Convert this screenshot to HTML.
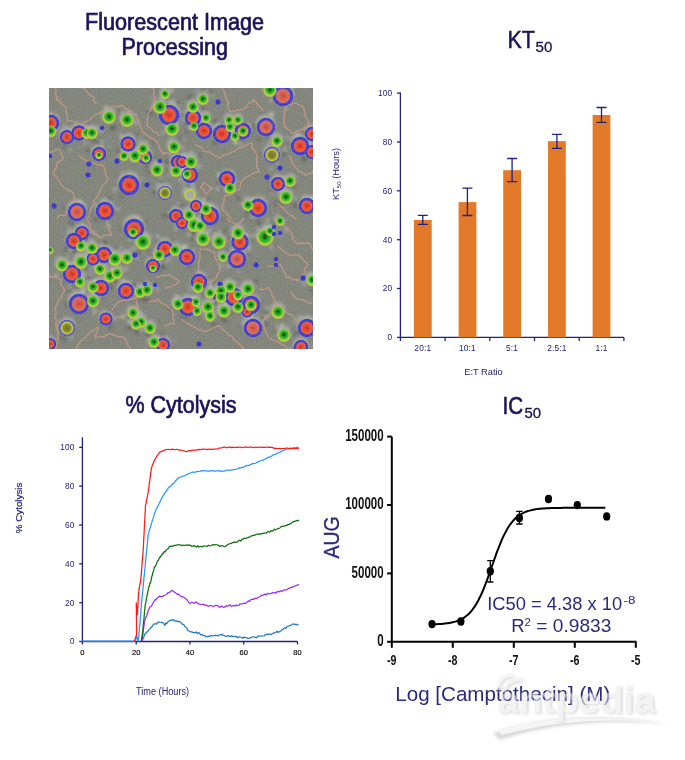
<!DOCTYPE html>
<html><head><meta charset="utf-8"><style>
html,body{margin:0;padding:0;background:#fff;}
svg{display:block;will-change:transform;font-family:"Liberation Sans",sans-serif;}
</style></head><body>
<svg width="685" height="760" viewBox="0 0 685 760">
<defs><clipPath id="mc"><rect x="49" y="88" width="264" height="261"/></clipPath>
<filter id="bl" x="-5%" y="-5%" width="110%" height="110%"><feGaussianBlur stdDeviation="0.65"/></filter>
<filter id="bl2" x="-5%" y="-5%" width="110%" height="110%"><feGaussianBlur stdDeviation="1.4"/></filter>
<filter id="nz" x="0" y="0" width="100%" height="100%"><feTurbulence type="fractalNoise" baseFrequency="0.8" numOctaves="2" seed="3"/><feColorMatrix type="matrix" values="0 0 0 0 0.5  0 0 0 0 0.5  0 0 0 0 0.5  1.2 1.2 1.2 0 -1.6"/></filter>
</defs>
<g clip-path="url(#mc)">
<defs><pattern id="dots" x="49" y="88" width="4.4" height="4.4" patternUnits="userSpaceOnUse"><circle cx="1" cy="1" r="0.7" fill="#b8b870"/><circle cx="3.2" cy="3.2" r="0.7" fill="#b8b870"/></pattern></defs>
<rect x="49" y="88" width="264" height="261" fill="#7d8179"/>
<rect x="49" y="88" width="264" height="261" fill="url(#dots)" opacity="0.22"/>
<g filter="url(#bl2)">
<circle cx="50.7" cy="120.0" r="8.62" fill="#d4d6d0" opacity="0.45"/>
<circle cx="40.1" cy="126.4" r="2.5" fill="#3c403c" opacity="0.4"/>
<circle cx="40.1" cy="125.4" r="2.0" fill="#3c403c" opacity="0.4"/>
<circle cx="55.5" cy="133.3" r="2.1" fill="#3c403c" opacity="0.4"/>
<circle cx="53.5" cy="114.0" r="1.6" fill="#3c403c" opacity="0.4"/>
<circle cx="62.3" cy="130.3" r="2.0" fill="#d8dcd4" opacity="0.4"/>
<circle cx="64.8" cy="126.7" r="2.4" fill="#d8dcd4" opacity="0.4"/>
<circle cx="50.7" cy="128.9" r="6.500000000000001" fill="#d4d6d0" opacity="0.45"/>
<circle cx="45.6" cy="123.1" r="1.4" fill="#3c403c" opacity="0.4"/>
<circle cx="60.1" cy="131.9" r="1.3" fill="#3c403c" opacity="0.4"/>
<circle cx="53.9" cy="138.3" r="1.2" fill="#3c403c" opacity="0.4"/>
<circle cx="42.4" cy="133.0" r="2.4" fill="#3c403c" opacity="0.4"/>
<circle cx="40.6" cy="129.8" r="1.8" fill="#d8dcd4" opacity="0.4"/>
<circle cx="46.0" cy="122.8" r="1.5" fill="#d8dcd4" opacity="0.4"/>
<circle cx="66.7" cy="134.5" r="7.5600000000000005" fill="#d4d6d0" opacity="0.45"/>
<circle cx="79.3" cy="136.8" r="2.4" fill="#3c403c" opacity="0.4"/>
<circle cx="64.5" cy="128.1" r="1.5" fill="#3c403c" opacity="0.4"/>
<circle cx="65.0" cy="144.9" r="2.3" fill="#3c403c" opacity="0.4"/>
<circle cx="57.6" cy="143.8" r="1.7" fill="#3c403c" opacity="0.4"/>
<circle cx="79.2" cy="133.7" r="1.2" fill="#d8dcd4" opacity="0.4"/>
<circle cx="70.2" cy="149.5" r="1.8" fill="#d8dcd4" opacity="0.4"/>
<circle cx="78.7" cy="130.2" r="8.09" fill="#d4d6d0" opacity="0.45"/>
<circle cx="89.1" cy="131.7" r="1.3" fill="#3c403c" opacity="0.4"/>
<circle cx="70.8" cy="124.4" r="1.6" fill="#3c403c" opacity="0.4"/>
<circle cx="87.4" cy="138.1" r="2.5" fill="#3c403c" opacity="0.4"/>
<circle cx="79.4" cy="124.1" r="1.5" fill="#3c403c" opacity="0.4"/>
<circle cx="86.4" cy="138.4" r="2.2" fill="#d8dcd4" opacity="0.4"/>
<circle cx="84.1" cy="143.5" r="1.7" fill="#d8dcd4" opacity="0.4"/>
<circle cx="86.7" cy="130.9" r="6.500000000000001" fill="#d4d6d0" opacity="0.45"/>
<circle cx="90.7" cy="142.4" r="1.4" fill="#3c403c" opacity="0.4"/>
<circle cx="82.5" cy="127.3" r="1.8" fill="#3c403c" opacity="0.4"/>
<circle cx="88.9" cy="140.8" r="2.6" fill="#3c403c" opacity="0.4"/>
<circle cx="89.7" cy="125.3" r="2.4" fill="#3c403c" opacity="0.4"/>
<circle cx="89.3" cy="142.0" r="2.2" fill="#d8dcd4" opacity="0.4"/>
<circle cx="82.1" cy="126.9" r="2.4" fill="#d8dcd4" opacity="0.4"/>
<circle cx="91.7" cy="130.9" r="6.500000000000001" fill="#d4d6d0" opacity="0.45"/>
<circle cx="93.8" cy="140.7" r="2.3" fill="#3c403c" opacity="0.4"/>
<circle cx="88.1" cy="140.2" r="1.3" fill="#3c403c" opacity="0.4"/>
<circle cx="100.0" cy="138.1" r="1.5" fill="#3c403c" opacity="0.4"/>
<circle cx="85.2" cy="128.0" r="1.8" fill="#3c403c" opacity="0.4"/>
<circle cx="101.4" cy="130.5" r="1.9" fill="#d8dcd4" opacity="0.4"/>
<circle cx="97.5" cy="126.9" r="1.4" fill="#d8dcd4" opacity="0.4"/>
<circle cx="108.7" cy="114.5" r="7.5600000000000005" fill="#d4d6d0" opacity="0.45"/>
<circle cx="118.7" cy="110.7" r="1.5" fill="#3c403c" opacity="0.4"/>
<circle cx="113.1" cy="127.4" r="2.5" fill="#3c403c" opacity="0.4"/>
<circle cx="113.0" cy="128.5" r="2.4" fill="#3c403c" opacity="0.4"/>
<circle cx="101.2" cy="111.1" r="1.3" fill="#3c403c" opacity="0.4"/>
<circle cx="121.8" cy="120.2" r="1.5" fill="#d8dcd4" opacity="0.4"/>
<circle cx="106.3" cy="107.8" r="2.2" fill="#d8dcd4" opacity="0.4"/>
<circle cx="126.7" cy="117.5" r="7.5600000000000005" fill="#d4d6d0" opacity="0.45"/>
<circle cx="119.4" cy="114.8" r="1.4" fill="#3c403c" opacity="0.4"/>
<circle cx="125.5" cy="112.0" r="1.5" fill="#3c403c" opacity="0.4"/>
<circle cx="116.1" cy="115.8" r="2.1" fill="#3c403c" opacity="0.4"/>
<circle cx="124.7" cy="131.8" r="1.5" fill="#3c403c" opacity="0.4"/>
<circle cx="136.7" cy="121.0" r="1.7" fill="#d8dcd4" opacity="0.4"/>
<circle cx="135.6" cy="123.4" r="1.6" fill="#d8dcd4" opacity="0.4"/>
<circle cx="127.7" cy="141.2" r="8.09" fill="#d4d6d0" opacity="0.45"/>
<circle cx="119.9" cy="140.1" r="1.7" fill="#3c403c" opacity="0.4"/>
<circle cx="137.9" cy="135.9" r="2.1" fill="#3c403c" opacity="0.4"/>
<circle cx="124.0" cy="133.7" r="1.4" fill="#3c403c" opacity="0.4"/>
<circle cx="136.3" cy="145.9" r="2.5" fill="#3c403c" opacity="0.4"/>
<circle cx="123.8" cy="131.0" r="1.2" fill="#d8dcd4" opacity="0.4"/>
<circle cx="120.6" cy="135.5" r="2.1" fill="#d8dcd4" opacity="0.4"/>
<circle cx="98.7" cy="151.5" r="7.5600000000000005" fill="#d4d6d0" opacity="0.45"/>
<circle cx="93.8" cy="165.2" r="1.3" fill="#3c403c" opacity="0.4"/>
<circle cx="88.3" cy="150.8" r="2.5" fill="#3c403c" opacity="0.4"/>
<circle cx="98.1" cy="143.0" r="2.3" fill="#3c403c" opacity="0.4"/>
<circle cx="107.1" cy="149.2" r="2.2" fill="#3c403c" opacity="0.4"/>
<circle cx="109.3" cy="146.6" r="1.7" fill="#d8dcd4" opacity="0.4"/>
<circle cx="102.2" cy="141.7" r="1.9" fill="#d8dcd4" opacity="0.4"/>
<circle cx="123.7" cy="154.3" r="5.44" fill="#d4d6d0" opacity="0.45"/>
<circle cx="118.7" cy="150.7" r="2.0" fill="#3c403c" opacity="0.4"/>
<circle cx="119.3" cy="152.2" r="2.1" fill="#3c403c" opacity="0.4"/>
<circle cx="133.7" cy="155.6" r="2.2" fill="#3c403c" opacity="0.4"/>
<circle cx="117.1" cy="161.8" r="2.0" fill="#3c403c" opacity="0.4"/>
<circle cx="114.3" cy="159.8" r="1.3" fill="#d8dcd4" opacity="0.4"/>
<circle cx="124.0" cy="149.6" r="1.9" fill="#d8dcd4" opacity="0.4"/>
<circle cx="134.7" cy="153.7" r="7.03" fill="#d4d6d0" opacity="0.45"/>
<circle cx="126.7" cy="157.0" r="2.2" fill="#3c403c" opacity="0.4"/>
<circle cx="124.9" cy="156.2" r="2.5" fill="#3c403c" opacity="0.4"/>
<circle cx="134.7" cy="163.4" r="1.6" fill="#3c403c" opacity="0.4"/>
<circle cx="131.4" cy="148.6" r="1.4" fill="#3c403c" opacity="0.4"/>
<circle cx="144.2" cy="149.8" r="1.7" fill="#d8dcd4" opacity="0.4"/>
<circle cx="142.3" cy="150.0" r="2.0" fill="#d8dcd4" opacity="0.4"/>
<circle cx="142.7" cy="146.9" r="6.500000000000001" fill="#d4d6d0" opacity="0.45"/>
<circle cx="145.8" cy="157.3" r="2.3" fill="#3c403c" opacity="0.4"/>
<circle cx="152.2" cy="143.4" r="1.7" fill="#3c403c" opacity="0.4"/>
<circle cx="135.9" cy="144.9" r="1.4" fill="#3c403c" opacity="0.4"/>
<circle cx="132.4" cy="149.3" r="2.4" fill="#3c403c" opacity="0.4"/>
<circle cx="140.1" cy="137.3" r="1.5" fill="#d8dcd4" opacity="0.4"/>
<circle cx="147.7" cy="157.3" r="1.5" fill="#d8dcd4" opacity="0.4"/>
<circle cx="144.7" cy="154.5" r="7.5600000000000005" fill="#d4d6d0" opacity="0.45"/>
<circle cx="147.2" cy="166.5" r="2.1" fill="#3c403c" opacity="0.4"/>
<circle cx="135.7" cy="157.4" r="2.4" fill="#3c403c" opacity="0.4"/>
<circle cx="154.8" cy="155.9" r="1.3" fill="#3c403c" opacity="0.4"/>
<circle cx="156.6" cy="159.3" r="1.3" fill="#3c403c" opacity="0.4"/>
<circle cx="142.1" cy="146.2" r="1.6" fill="#d8dcd4" opacity="0.4"/>
<circle cx="147.2" cy="148.8" r="1.4" fill="#d8dcd4" opacity="0.4"/>
<circle cx="156.7" cy="167.7" r="7.03" fill="#d4d6d0" opacity="0.45"/>
<circle cx="149.9" cy="172.1" r="2.4" fill="#3c403c" opacity="0.4"/>
<circle cx="157.6" cy="177.9" r="1.3" fill="#3c403c" opacity="0.4"/>
<circle cx="150.6" cy="163.2" r="2.1" fill="#3c403c" opacity="0.4"/>
<circle cx="150.8" cy="160.9" r="2.5" fill="#3c403c" opacity="0.4"/>
<circle cx="153.5" cy="161.9" r="1.8" fill="#d8dcd4" opacity="0.4"/>
<circle cx="160.4" cy="177.1" r="1.8" fill="#d8dcd4" opacity="0.4"/>
<circle cx="128.7" cy="181.2" r="10.74" fill="#d4d6d0" opacity="0.45"/>
<circle cx="126.3" cy="173.5" r="1.6" fill="#3c403c" opacity="0.4"/>
<circle cx="121.0" cy="196.7" r="1.9" fill="#3c403c" opacity="0.4"/>
<circle cx="118.1" cy="175.5" r="1.8" fill="#3c403c" opacity="0.4"/>
<circle cx="132.9" cy="170.4" r="1.3" fill="#3c403c" opacity="0.4"/>
<circle cx="142.8" cy="178.7" r="1.4" fill="#d8dcd4" opacity="0.4"/>
<circle cx="115.0" cy="189.2" r="2.3" fill="#d8dcd4" opacity="0.4"/>
<circle cx="104.7" cy="207.6" r="9.68" fill="#d4d6d0" opacity="0.45"/>
<circle cx="96.0" cy="219.8" r="2.4" fill="#3c403c" opacity="0.4"/>
<circle cx="109.1" cy="197.4" r="1.8" fill="#3c403c" opacity="0.4"/>
<circle cx="98.6" cy="202.1" r="2.2" fill="#3c403c" opacity="0.4"/>
<circle cx="110.3" cy="199.3" r="2.2" fill="#3c403c" opacity="0.4"/>
<circle cx="108.4" cy="225.6" r="2.4" fill="#d8dcd4" opacity="0.4"/>
<circle cx="118.0" cy="209.1" r="2.1" fill="#d8dcd4" opacity="0.4"/>
<circle cx="76.7" cy="208.6" r="9.68" fill="#d4d6d0" opacity="0.45"/>
<circle cx="71.0" cy="224.7" r="2.4" fill="#3c403c" opacity="0.4"/>
<circle cx="71.0" cy="220.4" r="1.8" fill="#3c403c" opacity="0.4"/>
<circle cx="64.2" cy="207.8" r="1.9" fill="#3c403c" opacity="0.4"/>
<circle cx="90.4" cy="214.4" r="1.3" fill="#3c403c" opacity="0.4"/>
<circle cx="80.5" cy="201.2" r="1.6" fill="#d8dcd4" opacity="0.4"/>
<circle cx="79.6" cy="201.1" r="1.4" fill="#d8dcd4" opacity="0.4"/>
<circle cx="164.7" cy="190.5" r="7.5600000000000005" fill="#d4d6d0" opacity="0.45"/>
<circle cx="153.9" cy="191.9" r="2.4" fill="#3c403c" opacity="0.4"/>
<circle cx="160.5" cy="181.8" r="1.9" fill="#3c403c" opacity="0.4"/>
<circle cx="172.8" cy="190.4" r="1.5" fill="#3c403c" opacity="0.4"/>
<circle cx="156.0" cy="191.5" r="2.2" fill="#3c403c" opacity="0.4"/>
<circle cx="157.9" cy="184.6" r="2.2" fill="#d8dcd4" opacity="0.4"/>
<circle cx="155.8" cy="189.4" r="1.7" fill="#d8dcd4" opacity="0.4"/>
<circle cx="168.7" cy="111.2" r="10.74" fill="#d4d6d0" opacity="0.45"/>
<circle cx="177.5" cy="102.5" r="1.5" fill="#3c403c" opacity="0.4"/>
<circle cx="178.1" cy="102.6" r="1.9" fill="#3c403c" opacity="0.4"/>
<circle cx="158.3" cy="109.7" r="2.0" fill="#3c403c" opacity="0.4"/>
<circle cx="155.2" cy="114.7" r="1.2" fill="#3c403c" opacity="0.4"/>
<circle cx="182.9" cy="112.3" r="1.7" fill="#d8dcd4" opacity="0.4"/>
<circle cx="173.5" cy="101.4" r="1.8" fill="#d8dcd4" opacity="0.4"/>
<circle cx="159.7" cy="104.5" r="7.5600000000000005" fill="#d4d6d0" opacity="0.45"/>
<circle cx="157.0" cy="99.4" r="2.0" fill="#3c403c" opacity="0.4"/>
<circle cx="149.6" cy="113.3" r="2.5" fill="#3c403c" opacity="0.4"/>
<circle cx="158.8" cy="116.9" r="1.4" fill="#3c403c" opacity="0.4"/>
<circle cx="149.5" cy="111.7" r="2.5" fill="#3c403c" opacity="0.4"/>
<circle cx="150.2" cy="108.5" r="1.4" fill="#d8dcd4" opacity="0.4"/>
<circle cx="150.4" cy="98.3" r="1.4" fill="#d8dcd4" opacity="0.4"/>
<circle cx="171.7" cy="126.5" r="7.5600000000000005" fill="#d4d6d0" opacity="0.45"/>
<circle cx="173.4" cy="121.2" r="1.5" fill="#3c403c" opacity="0.4"/>
<circle cx="173.6" cy="139.8" r="1.7" fill="#3c403c" opacity="0.4"/>
<circle cx="165.5" cy="137.4" r="1.3" fill="#3c403c" opacity="0.4"/>
<circle cx="171.0" cy="120.7" r="1.9" fill="#3c403c" opacity="0.4"/>
<circle cx="172.0" cy="138.3" r="1.8" fill="#d8dcd4" opacity="0.4"/>
<circle cx="162.6" cy="133.0" r="1.7" fill="#d8dcd4" opacity="0.4"/>
<circle cx="164.7" cy="92.3" r="5.44" fill="#d4d6d0" opacity="0.45"/>
<circle cx="158.6" cy="92.8" r="1.5" fill="#3c403c" opacity="0.4"/>
<circle cx="159.1" cy="87.7" r="1.9" fill="#3c403c" opacity="0.4"/>
<circle cx="170.0" cy="87.2" r="2.4" fill="#3c403c" opacity="0.4"/>
<circle cx="166.0" cy="103.0" r="2.3" fill="#3c403c" opacity="0.4"/>
<circle cx="171.4" cy="89.5" r="1.6" fill="#d8dcd4" opacity="0.4"/>
<circle cx="171.5" cy="90.6" r="2.4" fill="#d8dcd4" opacity="0.4"/>
<circle cx="173.7" cy="144.7" r="7.03" fill="#d4d6d0" opacity="0.45"/>
<circle cx="180.0" cy="141.8" r="1.5" fill="#3c403c" opacity="0.4"/>
<circle cx="172.7" cy="138.6" r="1.3" fill="#3c403c" opacity="0.4"/>
<circle cx="178.5" cy="139.0" r="2.3" fill="#3c403c" opacity="0.4"/>
<circle cx="180.4" cy="153.5" r="2.2" fill="#3c403c" opacity="0.4"/>
<circle cx="182.8" cy="148.0" r="2.0" fill="#d8dcd4" opacity="0.4"/>
<circle cx="184.7" cy="140.3" r="1.3" fill="#d8dcd4" opacity="0.4"/>
<circle cx="177.7" cy="159.5" r="7.5600000000000005" fill="#d4d6d0" opacity="0.45"/>
<circle cx="166.7" cy="161.6" r="1.9" fill="#3c403c" opacity="0.4"/>
<circle cx="174.6" cy="154.0" r="1.3" fill="#3c403c" opacity="0.4"/>
<circle cx="184.3" cy="167.0" r="2.0" fill="#3c403c" opacity="0.4"/>
<circle cx="167.6" cy="161.0" r="1.4" fill="#3c403c" opacity="0.4"/>
<circle cx="181.8" cy="170.6" r="2.2" fill="#d8dcd4" opacity="0.4"/>
<circle cx="191.0" cy="161.2" r="1.3" fill="#d8dcd4" opacity="0.4"/>
<circle cx="175.7" cy="168.9" r="6.500000000000001" fill="#d4d6d0" opacity="0.45"/>
<circle cx="186.3" cy="175.2" r="1.8" fill="#3c403c" opacity="0.4"/>
<circle cx="176.7" cy="162.8" r="1.9" fill="#3c403c" opacity="0.4"/>
<circle cx="167.3" cy="170.2" r="2.0" fill="#3c403c" opacity="0.4"/>
<circle cx="185.9" cy="171.8" r="2.4" fill="#3c403c" opacity="0.4"/>
<circle cx="180.0" cy="179.7" r="2.1" fill="#d8dcd4" opacity="0.4"/>
<circle cx="169.2" cy="175.6" r="1.4" fill="#d8dcd4" opacity="0.4"/>
<circle cx="175.7" cy="213.5" r="7.5600000000000005" fill="#d4d6d0" opacity="0.45"/>
<circle cx="168.1" cy="215.4" r="2.5" fill="#3c403c" opacity="0.4"/>
<circle cx="179.5" cy="205.5" r="2.4" fill="#3c403c" opacity="0.4"/>
<circle cx="169.3" cy="209.0" r="2.0" fill="#3c403c" opacity="0.4"/>
<circle cx="163.7" cy="215.7" r="2.3" fill="#3c403c" opacity="0.4"/>
<circle cx="175.3" cy="228.9" r="2.1" fill="#d8dcd4" opacity="0.4"/>
<circle cx="178.1" cy="203.8" r="1.7" fill="#d8dcd4" opacity="0.4"/>
<circle cx="202.7" cy="96.9" r="6.500000000000001" fill="#d4d6d0" opacity="0.45"/>
<circle cx="211.5" cy="92.5" r="2.2" fill="#3c403c" opacity="0.4"/>
<circle cx="204.1" cy="88.8" r="1.8" fill="#3c403c" opacity="0.4"/>
<circle cx="201.8" cy="92.0" r="1.7" fill="#3c403c" opacity="0.4"/>
<circle cx="196.3" cy="100.3" r="1.7" fill="#3c403c" opacity="0.4"/>
<circle cx="196.3" cy="91.0" r="1.5" fill="#d8dcd4" opacity="0.4"/>
<circle cx="213.0" cy="95.3" r="1.6" fill="#d8dcd4" opacity="0.4"/>
<circle cx="192.7" cy="104.9" r="6.500000000000001" fill="#d4d6d0" opacity="0.45"/>
<circle cx="188.0" cy="99.1" r="1.9" fill="#3c403c" opacity="0.4"/>
<circle cx="184.3" cy="114.2" r="2.1" fill="#3c403c" opacity="0.4"/>
<circle cx="189.9" cy="97.3" r="2.6" fill="#3c403c" opacity="0.4"/>
<circle cx="202.5" cy="108.4" r="2.2" fill="#3c403c" opacity="0.4"/>
<circle cx="192.6" cy="116.3" r="1.3" fill="#d8dcd4" opacity="0.4"/>
<circle cx="196.1" cy="115.6" r="1.3" fill="#d8dcd4" opacity="0.4"/>
<circle cx="192.7" cy="115.0" r="8.62" fill="#d4d6d0" opacity="0.45"/>
<circle cx="192.9" cy="131.0" r="2.0" fill="#3c403c" opacity="0.4"/>
<circle cx="179.7" cy="117.4" r="2.0" fill="#3c403c" opacity="0.4"/>
<circle cx="204.8" cy="117.6" r="2.3" fill="#3c403c" opacity="0.4"/>
<circle cx="203.3" cy="123.3" r="2.3" fill="#3c403c" opacity="0.4"/>
<circle cx="206.5" cy="121.9" r="1.4" fill="#d8dcd4" opacity="0.4"/>
<circle cx="182.9" cy="119.8" r="1.8" fill="#d8dcd4" opacity="0.4"/>
<circle cx="193.7" cy="124.3" r="5.44" fill="#d4d6d0" opacity="0.45"/>
<circle cx="189.4" cy="122.1" r="2.5" fill="#3c403c" opacity="0.4"/>
<circle cx="186.9" cy="129.9" r="2.0" fill="#3c403c" opacity="0.4"/>
<circle cx="189.3" cy="131.3" r="2.1" fill="#3c403c" opacity="0.4"/>
<circle cx="187.5" cy="123.4" r="2.2" fill="#3c403c" opacity="0.4"/>
<circle cx="192.2" cy="132.0" r="1.5" fill="#d8dcd4" opacity="0.4"/>
<circle cx="200.8" cy="127.9" r="2.1" fill="#d8dcd4" opacity="0.4"/>
<circle cx="205.7" cy="116.3" r="5.44" fill="#d4d6d0" opacity="0.45"/>
<circle cx="198.5" cy="124.2" r="2.2" fill="#3c403c" opacity="0.4"/>
<circle cx="215.7" cy="121.2" r="2.5" fill="#3c403c" opacity="0.4"/>
<circle cx="214.8" cy="122.4" r="1.8" fill="#3c403c" opacity="0.4"/>
<circle cx="196.0" cy="119.4" r="1.5" fill="#3c403c" opacity="0.4"/>
<circle cx="195.2" cy="116.4" r="2.1" fill="#d8dcd4" opacity="0.4"/>
<circle cx="195.1" cy="120.2" r="2.2" fill="#d8dcd4" opacity="0.4"/>
<circle cx="203.7" cy="128.0" r="8.62" fill="#d4d6d0" opacity="0.45"/>
<circle cx="196.5" cy="125.3" r="2.1" fill="#3c403c" opacity="0.4"/>
<circle cx="194.5" cy="133.7" r="1.3" fill="#3c403c" opacity="0.4"/>
<circle cx="194.7" cy="129.4" r="1.8" fill="#3c403c" opacity="0.4"/>
<circle cx="198.6" cy="121.5" r="1.6" fill="#3c403c" opacity="0.4"/>
<circle cx="194.0" cy="125.3" r="2.1" fill="#d8dcd4" opacity="0.4"/>
<circle cx="189.9" cy="128.3" r="2.3" fill="#d8dcd4" opacity="0.4"/>
<circle cx="221.7" cy="130.6" r="9.68" fill="#d4d6d0" opacity="0.45"/>
<circle cx="220.9" cy="123.0" r="1.4" fill="#3c403c" opacity="0.4"/>
<circle cx="232.5" cy="125.5" r="2.1" fill="#3c403c" opacity="0.4"/>
<circle cx="214.9" cy="142.7" r="2.2" fill="#3c403c" opacity="0.4"/>
<circle cx="210.4" cy="129.0" r="2.1" fill="#3c403c" opacity="0.4"/>
<circle cx="222.2" cy="122.6" r="1.5" fill="#d8dcd4" opacity="0.4"/>
<circle cx="236.9" cy="132.0" r="2.3" fill="#d8dcd4" opacity="0.4"/>
<circle cx="242.7" cy="128.0" r="8.62" fill="#d4d6d0" opacity="0.45"/>
<circle cx="251.9" cy="133.3" r="1.6" fill="#3c403c" opacity="0.4"/>
<circle cx="232.6" cy="136.3" r="1.3" fill="#3c403c" opacity="0.4"/>
<circle cx="234.1" cy="128.6" r="1.3" fill="#3c403c" opacity="0.4"/>
<circle cx="237.9" cy="120.8" r="2.1" fill="#3c403c" opacity="0.4"/>
<circle cx="234.8" cy="139.5" r="1.5" fill="#d8dcd4" opacity="0.4"/>
<circle cx="235.7" cy="141.9" r="2.2" fill="#d8dcd4" opacity="0.4"/>
<circle cx="228.7" cy="118.3" r="5.44" fill="#d4d6d0" opacity="0.45"/>
<circle cx="234.6" cy="122.8" r="2.3" fill="#3c403c" opacity="0.4"/>
<circle cx="222.4" cy="113.6" r="1.5" fill="#3c403c" opacity="0.4"/>
<circle cx="222.9" cy="123.2" r="2.3" fill="#3c403c" opacity="0.4"/>
<circle cx="223.1" cy="126.4" r="2.6" fill="#3c403c" opacity="0.4"/>
<circle cx="224.9" cy="128.0" r="2.1" fill="#d8dcd4" opacity="0.4"/>
<circle cx="236.4" cy="116.0" r="1.6" fill="#d8dcd4" opacity="0.4"/>
<circle cx="237.7" cy="118.3" r="5.44" fill="#d4d6d0" opacity="0.45"/>
<circle cx="245.9" cy="125.5" r="1.3" fill="#3c403c" opacity="0.4"/>
<circle cx="245.2" cy="124.1" r="1.9" fill="#3c403c" opacity="0.4"/>
<circle cx="235.2" cy="113.5" r="2.3" fill="#3c403c" opacity="0.4"/>
<circle cx="243.9" cy="123.1" r="2.1" fill="#3c403c" opacity="0.4"/>
<circle cx="244.8" cy="123.8" r="2.1" fill="#d8dcd4" opacity="0.4"/>
<circle cx="235.3" cy="112.8" r="1.4" fill="#d8dcd4" opacity="0.4"/>
<circle cx="229.7" cy="125.3" r="5.44" fill="#d4d6d0" opacity="0.45"/>
<circle cx="224.4" cy="134.0" r="1.7" fill="#3c403c" opacity="0.4"/>
<circle cx="236.6" cy="133.0" r="2.0" fill="#3c403c" opacity="0.4"/>
<circle cx="238.7" cy="122.1" r="2.5" fill="#3c403c" opacity="0.4"/>
<circle cx="221.4" cy="130.6" r="1.6" fill="#3c403c" opacity="0.4"/>
<circle cx="226.6" cy="134.5" r="2.3" fill="#d8dcd4" opacity="0.4"/>
<circle cx="235.9" cy="122.4" r="1.6" fill="#d8dcd4" opacity="0.4"/>
<circle cx="242.7" cy="129.1" r="5.970000000000001" fill="#d4d6d0" opacity="0.45"/>
<circle cx="237.8" cy="136.9" r="1.8" fill="#3c403c" opacity="0.4"/>
<circle cx="237.6" cy="135.6" r="2.0" fill="#3c403c" opacity="0.4"/>
<circle cx="245.5" cy="122.7" r="2.4" fill="#3c403c" opacity="0.4"/>
<circle cx="236.5" cy="128.3" r="2.3" fill="#3c403c" opacity="0.4"/>
<circle cx="249.0" cy="125.4" r="1.2" fill="#d8dcd4" opacity="0.4"/>
<circle cx="233.6" cy="130.1" r="1.9" fill="#d8dcd4" opacity="0.4"/>
<circle cx="234.7" cy="134.3" r="5.44" fill="#d4d6d0" opacity="0.45"/>
<circle cx="243.5" cy="134.2" r="2.3" fill="#3c403c" opacity="0.4"/>
<circle cx="242.5" cy="139.2" r="2.3" fill="#3c403c" opacity="0.4"/>
<circle cx="240.3" cy="139.1" r="2.2" fill="#3c403c" opacity="0.4"/>
<circle cx="239.9" cy="132.4" r="2.1" fill="#3c403c" opacity="0.4"/>
<circle cx="241.2" cy="143.8" r="2.0" fill="#d8dcd4" opacity="0.4"/>
<circle cx="235.2" cy="143.3" r="2.1" fill="#d8dcd4" opacity="0.4"/>
<circle cx="265.7" cy="123.6" r="9.68" fill="#d4d6d0" opacity="0.45"/>
<circle cx="252.7" cy="125.2" r="1.8" fill="#3c403c" opacity="0.4"/>
<circle cx="258.5" cy="139.2" r="2.1" fill="#3c403c" opacity="0.4"/>
<circle cx="253.6" cy="127.5" r="2.2" fill="#3c403c" opacity="0.4"/>
<circle cx="262.3" cy="113.4" r="1.8" fill="#3c403c" opacity="0.4"/>
<circle cx="272.3" cy="114.7" r="2.2" fill="#d8dcd4" opacity="0.4"/>
<circle cx="271.0" cy="113.2" r="2.3" fill="#d8dcd4" opacity="0.4"/>
<circle cx="282.7" cy="92.2" r="10.74" fill="#d4d6d0" opacity="0.45"/>
<circle cx="296.4" cy="92.3" r="1.9" fill="#3c403c" opacity="0.4"/>
<circle cx="279.3" cy="81.8" r="1.8" fill="#3c403c" opacity="0.4"/>
<circle cx="272.7" cy="101.6" r="2.2" fill="#3c403c" opacity="0.4"/>
<circle cx="295.7" cy="95.2" r="1.4" fill="#3c403c" opacity="0.4"/>
<circle cx="286.9" cy="109.1" r="1.6" fill="#d8dcd4" opacity="0.4"/>
<circle cx="294.6" cy="93.7" r="1.6" fill="#d8dcd4" opacity="0.4"/>
<circle cx="269.7" cy="87.5" r="7.5600000000000005" fill="#d4d6d0" opacity="0.45"/>
<circle cx="278.1" cy="97.1" r="2.3" fill="#3c403c" opacity="0.4"/>
<circle cx="273.5" cy="97.4" r="1.8" fill="#3c403c" opacity="0.4"/>
<circle cx="259.7" cy="84.0" r="1.3" fill="#3c403c" opacity="0.4"/>
<circle cx="276.7" cy="95.5" r="1.5" fill="#3c403c" opacity="0.4"/>
<circle cx="271.1" cy="101.9" r="1.9" fill="#d8dcd4" opacity="0.4"/>
<circle cx="271.5" cy="99.2" r="1.5" fill="#d8dcd4" opacity="0.4"/>
<circle cx="276.7" cy="138.9" r="6.500000000000001" fill="#d4d6d0" opacity="0.45"/>
<circle cx="281.8" cy="150.0" r="1.6" fill="#3c403c" opacity="0.4"/>
<circle cx="267.0" cy="137.9" r="1.9" fill="#3c403c" opacity="0.4"/>
<circle cx="276.3" cy="151.8" r="2.5" fill="#3c403c" opacity="0.4"/>
<circle cx="271.9" cy="148.8" r="2.5" fill="#3c403c" opacity="0.4"/>
<circle cx="268.6" cy="141.9" r="1.3" fill="#d8dcd4" opacity="0.4"/>
<circle cx="287.7" cy="137.3" r="1.7" fill="#d8dcd4" opacity="0.4"/>
<circle cx="271.7" cy="152.0" r="8.62" fill="#d4d6d0" opacity="0.45"/>
<circle cx="260.9" cy="153.1" r="1.6" fill="#3c403c" opacity="0.4"/>
<circle cx="283.9" cy="154.2" r="1.5" fill="#3c403c" opacity="0.4"/>
<circle cx="283.0" cy="155.8" r="1.7" fill="#3c403c" opacity="0.4"/>
<circle cx="275.5" cy="143.4" r="2.0" fill="#3c403c" opacity="0.4"/>
<circle cx="277.6" cy="163.5" r="1.6" fill="#d8dcd4" opacity="0.4"/>
<circle cx="271.2" cy="168.7" r="1.8" fill="#d8dcd4" opacity="0.4"/>
<circle cx="299.7" cy="142.6" r="9.68" fill="#d4d6d0" opacity="0.45"/>
<circle cx="290.6" cy="135.1" r="1.6" fill="#3c403c" opacity="0.4"/>
<circle cx="289.6" cy="143.7" r="2.3" fill="#3c403c" opacity="0.4"/>
<circle cx="313.7" cy="146.1" r="2.4" fill="#3c403c" opacity="0.4"/>
<circle cx="304.5" cy="136.7" r="1.6" fill="#3c403c" opacity="0.4"/>
<circle cx="297.7" cy="135.3" r="1.8" fill="#d8dcd4" opacity="0.4"/>
<circle cx="285.0" cy="149.0" r="1.9" fill="#d8dcd4" opacity="0.4"/>
<circle cx="311.7" cy="131.5" r="7.5600000000000005" fill="#d4d6d0" opacity="0.45"/>
<circle cx="317.7" cy="126.8" r="2.3" fill="#3c403c" opacity="0.4"/>
<circle cx="301.6" cy="140.0" r="1.3" fill="#3c403c" opacity="0.4"/>
<circle cx="316.0" cy="126.2" r="2.0" fill="#3c403c" opacity="0.4"/>
<circle cx="303.5" cy="132.6" r="2.4" fill="#3c403c" opacity="0.4"/>
<circle cx="308.3" cy="143.2" r="1.3" fill="#d8dcd4" opacity="0.4"/>
<circle cx="308.3" cy="144.1" r="2.1" fill="#d8dcd4" opacity="0.4"/>
<circle cx="311.7" cy="149.5" r="7.5600000000000005" fill="#d4d6d0" opacity="0.45"/>
<circle cx="305.0" cy="160.5" r="1.3" fill="#3c403c" opacity="0.4"/>
<circle cx="304.2" cy="158.1" r="2.6" fill="#3c403c" opacity="0.4"/>
<circle cx="317.2" cy="142.5" r="1.2" fill="#3c403c" opacity="0.4"/>
<circle cx="304.1" cy="159.7" r="1.5" fill="#3c403c" opacity="0.4"/>
<circle cx="302.2" cy="147.8" r="1.2" fill="#d8dcd4" opacity="0.4"/>
<circle cx="324.3" cy="151.3" r="1.4" fill="#d8dcd4" opacity="0.4"/>
<circle cx="277.7" cy="181.5" r="7.5600000000000005" fill="#d4d6d0" opacity="0.45"/>
<circle cx="271.2" cy="177.9" r="1.7" fill="#3c403c" opacity="0.4"/>
<circle cx="269.1" cy="181.7" r="1.7" fill="#3c403c" opacity="0.4"/>
<circle cx="269.5" cy="190.8" r="1.6" fill="#3c403c" opacity="0.4"/>
<circle cx="281.5" cy="194.6" r="1.7" fill="#3c403c" opacity="0.4"/>
<circle cx="288.5" cy="180.2" r="2.1" fill="#d8dcd4" opacity="0.4"/>
<circle cx="271.9" cy="194.9" r="1.3" fill="#d8dcd4" opacity="0.4"/>
<circle cx="289.7" cy="178.9" r="6.500000000000001" fill="#d4d6d0" opacity="0.45"/>
<circle cx="294.6" cy="186.6" r="2.1" fill="#3c403c" opacity="0.4"/>
<circle cx="288.0" cy="173.7" r="1.8" fill="#3c403c" opacity="0.4"/>
<circle cx="294.9" cy="172.9" r="1.3" fill="#3c403c" opacity="0.4"/>
<circle cx="291.1" cy="188.4" r="1.4" fill="#3c403c" opacity="0.4"/>
<circle cx="283.6" cy="185.2" r="2.3" fill="#d8dcd4" opacity="0.4"/>
<circle cx="281.2" cy="185.4" r="2.0" fill="#d8dcd4" opacity="0.4"/>
<circle cx="285.7" cy="194.5" r="7.5600000000000005" fill="#d4d6d0" opacity="0.45"/>
<circle cx="287.2" cy="185.5" r="1.7" fill="#3c403c" opacity="0.4"/>
<circle cx="281.3" cy="205.5" r="1.2" fill="#3c403c" opacity="0.4"/>
<circle cx="277.1" cy="203.4" r="2.6" fill="#3c403c" opacity="0.4"/>
<circle cx="288.6" cy="186.5" r="2.1" fill="#3c403c" opacity="0.4"/>
<circle cx="295.9" cy="198.2" r="1.6" fill="#d8dcd4" opacity="0.4"/>
<circle cx="280.8" cy="189.8" r="1.7" fill="#d8dcd4" opacity="0.4"/>
<circle cx="306.7" cy="203.0" r="8.62" fill="#d4d6d0" opacity="0.45"/>
<circle cx="294.6" cy="205.3" r="2.4" fill="#3c403c" opacity="0.4"/>
<circle cx="299.6" cy="199.8" r="2.3" fill="#3c403c" opacity="0.4"/>
<circle cx="316.3" cy="199.5" r="1.7" fill="#3c403c" opacity="0.4"/>
<circle cx="297.4" cy="206.0" r="2.2" fill="#3c403c" opacity="0.4"/>
<circle cx="319.0" cy="205.0" r="2.1" fill="#d8dcd4" opacity="0.4"/>
<circle cx="312.3" cy="197.0" r="2.3" fill="#d8dcd4" opacity="0.4"/>
<circle cx="257.7" cy="204.6" r="9.68" fill="#d4d6d0" opacity="0.45"/>
<circle cx="250.4" cy="200.2" r="1.3" fill="#3c403c" opacity="0.4"/>
<circle cx="258.4" cy="220.6" r="2.2" fill="#3c403c" opacity="0.4"/>
<circle cx="251.3" cy="220.5" r="1.7" fill="#3c403c" opacity="0.4"/>
<circle cx="247.7" cy="210.4" r="2.6" fill="#3c403c" opacity="0.4"/>
<circle cx="267.9" cy="219.3" r="1.9" fill="#d8dcd4" opacity="0.4"/>
<circle cx="245.7" cy="203.1" r="1.5" fill="#d8dcd4" opacity="0.4"/>
<circle cx="247.7" cy="202.9" r="6.500000000000001" fill="#d4d6d0" opacity="0.45"/>
<circle cx="257.5" cy="198.9" r="2.3" fill="#3c403c" opacity="0.4"/>
<circle cx="242.1" cy="200.6" r="2.4" fill="#3c403c" opacity="0.4"/>
<circle cx="245.4" cy="215.5" r="1.5" fill="#3c403c" opacity="0.4"/>
<circle cx="238.6" cy="200.3" r="1.5" fill="#3c403c" opacity="0.4"/>
<circle cx="240.7" cy="202.7" r="1.2" fill="#d8dcd4" opacity="0.4"/>
<circle cx="253.2" cy="216.1" r="2.3" fill="#d8dcd4" opacity="0.4"/>
<circle cx="226.7" cy="176.0" r="8.62" fill="#d4d6d0" opacity="0.45"/>
<circle cx="221.4" cy="170.4" r="2.1" fill="#3c403c" opacity="0.4"/>
<circle cx="226.2" cy="168.4" r="2.0" fill="#3c403c" opacity="0.4"/>
<circle cx="230.0" cy="170.5" r="1.5" fill="#3c403c" opacity="0.4"/>
<circle cx="217.6" cy="180.9" r="1.7" fill="#3c403c" opacity="0.4"/>
<circle cx="217.7" cy="174.7" r="1.8" fill="#d8dcd4" opacity="0.4"/>
<circle cx="226.0" cy="191.2" r="1.6" fill="#d8dcd4" opacity="0.4"/>
<circle cx="229.7" cy="185.9" r="6.500000000000001" fill="#d4d6d0" opacity="0.45"/>
<circle cx="225.6" cy="182.6" r="2.1" fill="#3c403c" opacity="0.4"/>
<circle cx="236.8" cy="196.8" r="2.0" fill="#3c403c" opacity="0.4"/>
<circle cx="221.5" cy="189.6" r="2.1" fill="#3c403c" opacity="0.4"/>
<circle cx="226.2" cy="178.5" r="2.3" fill="#3c403c" opacity="0.4"/>
<circle cx="217.8" cy="189.1" r="2.2" fill="#d8dcd4" opacity="0.4"/>
<circle cx="235.7" cy="180.6" r="1.7" fill="#d8dcd4" opacity="0.4"/>
<circle cx="190.7" cy="159.7" r="7.03" fill="#d4d6d0" opacity="0.45"/>
<circle cx="180.6" cy="157.4" r="1.9" fill="#3c403c" opacity="0.4"/>
<circle cx="181.8" cy="160.6" r="2.5" fill="#3c403c" opacity="0.4"/>
<circle cx="187.8" cy="168.8" r="2.2" fill="#3c403c" opacity="0.4"/>
<circle cx="199.6" cy="155.7" r="2.0" fill="#3c403c" opacity="0.4"/>
<circle cx="191.1" cy="152.6" r="1.9" fill="#d8dcd4" opacity="0.4"/>
<circle cx="198.7" cy="165.6" r="1.7" fill="#d8dcd4" opacity="0.4"/>
<circle cx="181.7" cy="159.9" r="6.500000000000001" fill="#d4d6d0" opacity="0.45"/>
<circle cx="173.4" cy="161.9" r="1.3" fill="#3c403c" opacity="0.4"/>
<circle cx="178.9" cy="153.4" r="1.5" fill="#3c403c" opacity="0.4"/>
<circle cx="179.0" cy="170.1" r="1.5" fill="#3c403c" opacity="0.4"/>
<circle cx="191.9" cy="166.5" r="2.6" fill="#3c403c" opacity="0.4"/>
<circle cx="176.1" cy="152.0" r="1.7" fill="#d8dcd4" opacity="0.4"/>
<circle cx="184.8" cy="154.1" r="2.1" fill="#d8dcd4" opacity="0.4"/>
<circle cx="189.7" cy="172.0" r="8.62" fill="#d4d6d0" opacity="0.45"/>
<circle cx="178.1" cy="169.7" r="1.3" fill="#3c403c" opacity="0.4"/>
<circle cx="192.5" cy="165.9" r="2.0" fill="#3c403c" opacity="0.4"/>
<circle cx="198.5" cy="172.3" r="1.5" fill="#3c403c" opacity="0.4"/>
<circle cx="186.8" cy="184.9" r="1.3" fill="#3c403c" opacity="0.4"/>
<circle cx="200.6" cy="166.7" r="1.7" fill="#d8dcd4" opacity="0.4"/>
<circle cx="182.4" cy="184.7" r="1.3" fill="#d8dcd4" opacity="0.4"/>
<circle cx="186.7" cy="172.3" r="5.44" fill="#d4d6d0" opacity="0.45"/>
<circle cx="196.6" cy="175.9" r="1.6" fill="#3c403c" opacity="0.4"/>
<circle cx="177.1" cy="174.1" r="2.6" fill="#3c403c" opacity="0.4"/>
<circle cx="180.4" cy="175.2" r="1.6" fill="#3c403c" opacity="0.4"/>
<circle cx="195.6" cy="169.4" r="1.5" fill="#3c403c" opacity="0.4"/>
<circle cx="191.2" cy="167.2" r="1.8" fill="#d8dcd4" opacity="0.4"/>
<circle cx="192.0" cy="183.4" r="2.4" fill="#d8dcd4" opacity="0.4"/>
<circle cx="189.7" cy="192.5" r="7.5600000000000005" fill="#d4d6d0" opacity="0.45"/>
<circle cx="193.2" cy="205.2" r="1.5" fill="#3c403c" opacity="0.4"/>
<circle cx="195.9" cy="189.5" r="1.3" fill="#3c403c" opacity="0.4"/>
<circle cx="188.6" cy="185.8" r="2.5" fill="#3c403c" opacity="0.4"/>
<circle cx="197.5" cy="186.9" r="1.4" fill="#3c403c" opacity="0.4"/>
<circle cx="185.6" cy="182.7" r="1.7" fill="#d8dcd4" opacity="0.4"/>
<circle cx="198.3" cy="199.5" r="1.6" fill="#d8dcd4" opacity="0.4"/>
<circle cx="195.7" cy="203.9" r="6.500000000000001" fill="#d4d6d0" opacity="0.45"/>
<circle cx="194.1" cy="198.6" r="1.5" fill="#3c403c" opacity="0.4"/>
<circle cx="196.9" cy="215.7" r="2.3" fill="#3c403c" opacity="0.4"/>
<circle cx="189.2" cy="213.0" r="2.4" fill="#3c403c" opacity="0.4"/>
<circle cx="189.4" cy="201.8" r="1.6" fill="#3c403c" opacity="0.4"/>
<circle cx="205.5" cy="201.2" r="1.5" fill="#d8dcd4" opacity="0.4"/>
<circle cx="191.0" cy="200.0" r="2.4" fill="#d8dcd4" opacity="0.4"/>
<circle cx="209.7" cy="212.6" r="9.68" fill="#d4d6d0" opacity="0.45"/>
<circle cx="198.5" cy="220.5" r="1.9" fill="#3c403c" opacity="0.4"/>
<circle cx="222.2" cy="219.6" r="1.6" fill="#3c403c" opacity="0.4"/>
<circle cx="209.9" cy="229.6" r="1.3" fill="#3c403c" opacity="0.4"/>
<circle cx="207.1" cy="229.1" r="1.5" fill="#3c403c" opacity="0.4"/>
<circle cx="207.6" cy="229.0" r="1.4" fill="#d8dcd4" opacity="0.4"/>
<circle cx="222.3" cy="206.7" r="1.2" fill="#d8dcd4" opacity="0.4"/>
<circle cx="188.7" cy="212.9" r="6.500000000000001" fill="#d4d6d0" opacity="0.45"/>
<circle cx="179.1" cy="217.4" r="1.7" fill="#3c403c" opacity="0.4"/>
<circle cx="197.2" cy="211.1" r="1.5" fill="#3c403c" opacity="0.4"/>
<circle cx="179.9" cy="211.7" r="1.7" fill="#3c403c" opacity="0.4"/>
<circle cx="183.4" cy="206.4" r="1.9" fill="#3c403c" opacity="0.4"/>
<circle cx="177.5" cy="214.6" r="2.0" fill="#d8dcd4" opacity="0.4"/>
<circle cx="177.0" cy="213.5" r="1.4" fill="#d8dcd4" opacity="0.4"/>
<circle cx="205.7" cy="206.9" r="6.500000000000001" fill="#d4d6d0" opacity="0.45"/>
<circle cx="207.4" cy="201.6" r="2.1" fill="#3c403c" opacity="0.4"/>
<circle cx="206.8" cy="217.7" r="2.3" fill="#3c403c" opacity="0.4"/>
<circle cx="208.3" cy="198.9" r="1.5" fill="#3c403c" opacity="0.4"/>
<circle cx="198.2" cy="209.5" r="2.0" fill="#3c403c" opacity="0.4"/>
<circle cx="198.5" cy="209.1" r="1.9" fill="#d8dcd4" opacity="0.4"/>
<circle cx="203.7" cy="199.1" r="2.2" fill="#d8dcd4" opacity="0.4"/>
<circle cx="133.7" cy="225.2" r="10.74" fill="#d4d6d0" opacity="0.45"/>
<circle cx="139.0" cy="239.6" r="1.2" fill="#3c403c" opacity="0.4"/>
<circle cx="121.0" cy="229.3" r="1.8" fill="#3c403c" opacity="0.4"/>
<circle cx="132.8" cy="243.6" r="1.3" fill="#3c403c" opacity="0.4"/>
<circle cx="145.3" cy="221.5" r="2.0" fill="#3c403c" opacity="0.4"/>
<circle cx="137.3" cy="216.7" r="1.4" fill="#d8dcd4" opacity="0.4"/>
<circle cx="129.6" cy="239.9" r="1.6" fill="#d8dcd4" opacity="0.4"/>
<circle cx="132.7" cy="230.3" r="5.44" fill="#d4d6d0" opacity="0.45"/>
<circle cx="127.1" cy="226.4" r="1.6" fill="#3c403c" opacity="0.4"/>
<circle cx="127.8" cy="228.8" r="2.3" fill="#3c403c" opacity="0.4"/>
<circle cx="136.3" cy="238.1" r="1.4" fill="#3c403c" opacity="0.4"/>
<circle cx="129.5" cy="223.2" r="2.3" fill="#3c403c" opacity="0.4"/>
<circle cx="140.7" cy="235.1" r="1.6" fill="#d8dcd4" opacity="0.4"/>
<circle cx="135.3" cy="242.8" r="1.3" fill="#d8dcd4" opacity="0.4"/>
<circle cx="81.7" cy="230.5" r="7.5600000000000005" fill="#d4d6d0" opacity="0.45"/>
<circle cx="70.7" cy="233.8" r="2.6" fill="#3c403c" opacity="0.4"/>
<circle cx="88.1" cy="240.8" r="2.2" fill="#3c403c" opacity="0.4"/>
<circle cx="90.7" cy="235.2" r="2.4" fill="#3c403c" opacity="0.4"/>
<circle cx="88.1" cy="240.5" r="1.6" fill="#3c403c" opacity="0.4"/>
<circle cx="74.2" cy="237.0" r="1.2" fill="#d8dcd4" opacity="0.4"/>
<circle cx="94.2" cy="232.7" r="2.1" fill="#d8dcd4" opacity="0.4"/>
<circle cx="73.7" cy="238.0" r="8.62" fill="#d4d6d0" opacity="0.45"/>
<circle cx="75.3" cy="251.0" r="2.0" fill="#3c403c" opacity="0.4"/>
<circle cx="74.6" cy="252.0" r="2.5" fill="#3c403c" opacity="0.4"/>
<circle cx="67.2" cy="248.9" r="2.6" fill="#3c403c" opacity="0.4"/>
<circle cx="67.0" cy="235.2" r="1.8" fill="#3c403c" opacity="0.4"/>
<circle cx="68.3" cy="233.2" r="1.6" fill="#d8dcd4" opacity="0.4"/>
<circle cx="69.3" cy="228.1" r="1.9" fill="#d8dcd4" opacity="0.4"/>
<circle cx="80.7" cy="244.1" r="5.970000000000001" fill="#d4d6d0" opacity="0.45"/>
<circle cx="87.3" cy="240.5" r="1.8" fill="#3c403c" opacity="0.4"/>
<circle cx="85.4" cy="239.3" r="2.3" fill="#3c403c" opacity="0.4"/>
<circle cx="82.7" cy="253.6" r="1.5" fill="#3c403c" opacity="0.4"/>
<circle cx="74.3" cy="243.9" r="1.5" fill="#3c403c" opacity="0.4"/>
<circle cx="83.0" cy="254.9" r="1.6" fill="#d8dcd4" opacity="0.4"/>
<circle cx="69.9" cy="249.8" r="2.0" fill="#d8dcd4" opacity="0.4"/>
<circle cx="91.7" cy="245.9" r="6.500000000000001" fill="#d4d6d0" opacity="0.45"/>
<circle cx="97.0" cy="242.1" r="1.7" fill="#3c403c" opacity="0.4"/>
<circle cx="100.9" cy="252.4" r="1.7" fill="#3c403c" opacity="0.4"/>
<circle cx="90.9" cy="254.8" r="1.5" fill="#3c403c" opacity="0.4"/>
<circle cx="91.3" cy="256.5" r="2.5" fill="#3c403c" opacity="0.4"/>
<circle cx="90.1" cy="239.6" r="1.6" fill="#d8dcd4" opacity="0.4"/>
<circle cx="98.8" cy="257.8" r="1.6" fill="#d8dcd4" opacity="0.4"/>
<circle cx="103.7" cy="252.0" r="8.62" fill="#d4d6d0" opacity="0.45"/>
<circle cx="105.2" cy="242.9" r="2.5" fill="#3c403c" opacity="0.4"/>
<circle cx="114.3" cy="256.3" r="1.7" fill="#3c403c" opacity="0.4"/>
<circle cx="115.2" cy="261.4" r="1.7" fill="#3c403c" opacity="0.4"/>
<circle cx="105.4" cy="243.8" r="1.3" fill="#3c403c" opacity="0.4"/>
<circle cx="95.7" cy="261.6" r="1.2" fill="#d8dcd4" opacity="0.4"/>
<circle cx="111.2" cy="265.1" r="1.2" fill="#d8dcd4" opacity="0.4"/>
<circle cx="142.7" cy="239.0" r="8.62" fill="#d4d6d0" opacity="0.45"/>
<circle cx="138.9" cy="252.0" r="2.0" fill="#3c403c" opacity="0.4"/>
<circle cx="150.9" cy="251.1" r="1.6" fill="#3c403c" opacity="0.4"/>
<circle cx="141.1" cy="230.2" r="1.4" fill="#3c403c" opacity="0.4"/>
<circle cx="145.9" cy="251.8" r="2.2" fill="#3c403c" opacity="0.4"/>
<circle cx="133.6" cy="248.4" r="2.2" fill="#d8dcd4" opacity="0.4"/>
<circle cx="144.6" cy="252.8" r="1.6" fill="#d8dcd4" opacity="0.4"/>
<circle cx="164.7" cy="246.0" r="8.62" fill="#d4d6d0" opacity="0.45"/>
<circle cx="166.9" cy="257.9" r="1.2" fill="#3c403c" opacity="0.4"/>
<circle cx="157.2" cy="240.6" r="2.3" fill="#3c403c" opacity="0.4"/>
<circle cx="175.1" cy="247.4" r="2.1" fill="#3c403c" opacity="0.4"/>
<circle cx="173.6" cy="244.2" r="2.2" fill="#3c403c" opacity="0.4"/>
<circle cx="157.9" cy="236.7" r="2.2" fill="#d8dcd4" opacity="0.4"/>
<circle cx="166.2" cy="261.5" r="1.3" fill="#d8dcd4" opacity="0.4"/>
<circle cx="158.7" cy="252.9" r="6.500000000000001" fill="#d4d6d0" opacity="0.45"/>
<circle cx="151.3" cy="258.8" r="1.3" fill="#3c403c" opacity="0.4"/>
<circle cx="152.9" cy="260.5" r="1.9" fill="#3c403c" opacity="0.4"/>
<circle cx="157.6" cy="262.4" r="1.8" fill="#3c403c" opacity="0.4"/>
<circle cx="151.5" cy="256.2" r="2.1" fill="#3c403c" opacity="0.4"/>
<circle cx="159.5" cy="262.7" r="1.6" fill="#d8dcd4" opacity="0.4"/>
<circle cx="151.9" cy="258.8" r="1.9" fill="#d8dcd4" opacity="0.4"/>
<circle cx="174.7" cy="247.9" r="6.500000000000001" fill="#d4d6d0" opacity="0.45"/>
<circle cx="172.2" cy="241.1" r="2.2" fill="#3c403c" opacity="0.4"/>
<circle cx="183.5" cy="251.2" r="1.7" fill="#3c403c" opacity="0.4"/>
<circle cx="183.0" cy="253.3" r="1.3" fill="#3c403c" opacity="0.4"/>
<circle cx="165.6" cy="250.3" r="1.9" fill="#3c403c" opacity="0.4"/>
<circle cx="171.1" cy="257.6" r="1.2" fill="#d8dcd4" opacity="0.4"/>
<circle cx="168.3" cy="259.6" r="1.9" fill="#d8dcd4" opacity="0.4"/>
<circle cx="114.7" cy="256.5" r="7.5600000000000005" fill="#d4d6d0" opacity="0.45"/>
<circle cx="114.2" cy="269.8" r="1.5" fill="#3c403c" opacity="0.4"/>
<circle cx="104.6" cy="261.1" r="2.5" fill="#3c403c" opacity="0.4"/>
<circle cx="108.2" cy="267.0" r="2.5" fill="#3c403c" opacity="0.4"/>
<circle cx="116.4" cy="248.4" r="2.1" fill="#3c403c" opacity="0.4"/>
<circle cx="106.2" cy="264.6" r="1.5" fill="#d8dcd4" opacity="0.4"/>
<circle cx="121.1" cy="247.8" r="1.7" fill="#d8dcd4" opacity="0.4"/>
<circle cx="126.7" cy="255.9" r="6.500000000000001" fill="#d4d6d0" opacity="0.45"/>
<circle cx="132.9" cy="254.2" r="1.4" fill="#3c403c" opacity="0.4"/>
<circle cx="118.8" cy="257.6" r="1.7" fill="#3c403c" opacity="0.4"/>
<circle cx="134.4" cy="256.9" r="1.5" fill="#3c403c" opacity="0.4"/>
<circle cx="128.3" cy="267.8" r="1.5" fill="#3c403c" opacity="0.4"/>
<circle cx="137.0" cy="258.1" r="1.7" fill="#d8dcd4" opacity="0.4"/>
<circle cx="127.7" cy="267.7" r="2.0" fill="#d8dcd4" opacity="0.4"/>
<circle cx="92.7" cy="256.7" r="7.03" fill="#d4d6d0" opacity="0.45"/>
<circle cx="83.3" cy="256.0" r="2.0" fill="#3c403c" opacity="0.4"/>
<circle cx="98.7" cy="248.8" r="1.7" fill="#3c403c" opacity="0.4"/>
<circle cx="86.6" cy="268.3" r="1.6" fill="#3c403c" opacity="0.4"/>
<circle cx="90.8" cy="248.8" r="2.2" fill="#3c403c" opacity="0.4"/>
<circle cx="104.6" cy="256.3" r="1.4" fill="#d8dcd4" opacity="0.4"/>
<circle cx="85.6" cy="251.9" r="1.9" fill="#d8dcd4" opacity="0.4"/>
<circle cx="80.7" cy="259.5" r="7.5600000000000005" fill="#d4d6d0" opacity="0.45"/>
<circle cx="74.8" cy="268.7" r="2.2" fill="#3c403c" opacity="0.4"/>
<circle cx="72.3" cy="260.1" r="1.5" fill="#3c403c" opacity="0.4"/>
<circle cx="77.1" cy="269.7" r="1.9" fill="#3c403c" opacity="0.4"/>
<circle cx="86.7" cy="267.8" r="1.3" fill="#3c403c" opacity="0.4"/>
<circle cx="90.5" cy="269.1" r="1.3" fill="#d8dcd4" opacity="0.4"/>
<circle cx="69.3" cy="265.7" r="1.8" fill="#d8dcd4" opacity="0.4"/>
<circle cx="61.7" cy="262.7" r="7.03" fill="#d4d6d0" opacity="0.45"/>
<circle cx="67.9" cy="274.6" r="2.4" fill="#3c403c" opacity="0.4"/>
<circle cx="70.0" cy="267.8" r="1.9" fill="#3c403c" opacity="0.4"/>
<circle cx="64.6" cy="256.3" r="2.2" fill="#3c403c" opacity="0.4"/>
<circle cx="61.9" cy="275.6" r="1.7" fill="#3c403c" opacity="0.4"/>
<circle cx="56.2" cy="275.1" r="2.2" fill="#d8dcd4" opacity="0.4"/>
<circle cx="67.0" cy="255.6" r="1.7" fill="#d8dcd4" opacity="0.4"/>
<circle cx="99.7" cy="266.9" r="6.500000000000001" fill="#d4d6d0" opacity="0.45"/>
<circle cx="97.4" cy="259.8" r="2.4" fill="#3c403c" opacity="0.4"/>
<circle cx="102.3" cy="262.0" r="1.7" fill="#3c403c" opacity="0.4"/>
<circle cx="96.2" cy="262.2" r="1.5" fill="#3c403c" opacity="0.4"/>
<circle cx="109.4" cy="269.8" r="2.5" fill="#3c403c" opacity="0.4"/>
<circle cx="107.8" cy="267.5" r="2.0" fill="#d8dcd4" opacity="0.4"/>
<circle cx="90.9" cy="274.1" r="1.7" fill="#d8dcd4" opacity="0.4"/>
<circle cx="109.7" cy="273.7" r="7.03" fill="#d4d6d0" opacity="0.45"/>
<circle cx="120.7" cy="271.2" r="1.3" fill="#3c403c" opacity="0.4"/>
<circle cx="108.2" cy="268.3" r="1.3" fill="#3c403c" opacity="0.4"/>
<circle cx="107.6" cy="286.4" r="2.6" fill="#3c403c" opacity="0.4"/>
<circle cx="116.4" cy="282.0" r="1.2" fill="#3c403c" opacity="0.4"/>
<circle cx="100.1" cy="273.3" r="1.6" fill="#d8dcd4" opacity="0.4"/>
<circle cx="105.7" cy="287.0" r="2.2" fill="#d8dcd4" opacity="0.4"/>
<circle cx="116.7" cy="270.9" r="6.500000000000001" fill="#d4d6d0" opacity="0.45"/>
<circle cx="115.2" cy="281.4" r="2.1" fill="#3c403c" opacity="0.4"/>
<circle cx="118.1" cy="261.8" r="1.7" fill="#3c403c" opacity="0.4"/>
<circle cx="113.8" cy="264.3" r="2.3" fill="#3c403c" opacity="0.4"/>
<circle cx="121.6" cy="279.0" r="1.3" fill="#3c403c" opacity="0.4"/>
<circle cx="124.8" cy="269.5" r="1.8" fill="#d8dcd4" opacity="0.4"/>
<circle cx="123.5" cy="279.1" r="1.2" fill="#d8dcd4" opacity="0.4"/>
<circle cx="71.7" cy="270.6" r="9.68" fill="#d4d6d0" opacity="0.45"/>
<circle cx="62.3" cy="269.7" r="2.1" fill="#3c403c" opacity="0.4"/>
<circle cx="70.4" cy="284.9" r="1.9" fill="#3c403c" opacity="0.4"/>
<circle cx="64.6" cy="282.3" r="1.3" fill="#3c403c" opacity="0.4"/>
<circle cx="84.9" cy="279.5" r="1.6" fill="#3c403c" opacity="0.4"/>
<circle cx="82.0" cy="279.4" r="1.8" fill="#d8dcd4" opacity="0.4"/>
<circle cx="83.5" cy="273.8" r="2.2" fill="#d8dcd4" opacity="0.4"/>
<circle cx="79.7" cy="280.1" r="5.970000000000001" fill="#d4d6d0" opacity="0.45"/>
<circle cx="71.9" cy="282.8" r="2.3" fill="#3c403c" opacity="0.4"/>
<circle cx="74.8" cy="286.0" r="2.0" fill="#3c403c" opacity="0.4"/>
<circle cx="75.0" cy="274.4" r="1.6" fill="#3c403c" opacity="0.4"/>
<circle cx="89.4" cy="278.2" r="2.6" fill="#3c403c" opacity="0.4"/>
<circle cx="69.8" cy="285.8" r="2.1" fill="#d8dcd4" opacity="0.4"/>
<circle cx="83.1" cy="288.2" r="1.4" fill="#d8dcd4" opacity="0.4"/>
<circle cx="152.7" cy="263.5" r="7.5600000000000005" fill="#d4d6d0" opacity="0.45"/>
<circle cx="159.0" cy="271.6" r="1.7" fill="#3c403c" opacity="0.4"/>
<circle cx="153.2" cy="256.7" r="1.9" fill="#3c403c" opacity="0.4"/>
<circle cx="161.8" cy="266.6" r="2.5" fill="#3c403c" opacity="0.4"/>
<circle cx="163.2" cy="266.7" r="2.3" fill="#3c403c" opacity="0.4"/>
<circle cx="156.1" cy="254.4" r="1.7" fill="#d8dcd4" opacity="0.4"/>
<circle cx="157.1" cy="254.2" r="2.1" fill="#d8dcd4" opacity="0.4"/>
<circle cx="100.7" cy="285.0" r="8.62" fill="#d4d6d0" opacity="0.45"/>
<circle cx="110.3" cy="287.1" r="2.5" fill="#3c403c" opacity="0.4"/>
<circle cx="91.1" cy="295.0" r="1.6" fill="#3c403c" opacity="0.4"/>
<circle cx="108.6" cy="283.1" r="2.0" fill="#3c403c" opacity="0.4"/>
<circle cx="102.5" cy="298.6" r="1.7" fill="#3c403c" opacity="0.4"/>
<circle cx="93.5" cy="276.8" r="1.6" fill="#d8dcd4" opacity="0.4"/>
<circle cx="93.7" cy="279.5" r="1.5" fill="#d8dcd4" opacity="0.4"/>
<circle cx="92.7" cy="284.9" r="6.500000000000001" fill="#d4d6d0" opacity="0.45"/>
<circle cx="99.8" cy="282.4" r="1.3" fill="#3c403c" opacity="0.4"/>
<circle cx="87.9" cy="295.7" r="1.5" fill="#3c403c" opacity="0.4"/>
<circle cx="92.6" cy="277.8" r="2.2" fill="#3c403c" opacity="0.4"/>
<circle cx="96.2" cy="293.5" r="1.4" fill="#3c403c" opacity="0.4"/>
<circle cx="87.4" cy="294.6" r="1.2" fill="#d8dcd4" opacity="0.4"/>
<circle cx="83.7" cy="286.9" r="1.6" fill="#d8dcd4" opacity="0.4"/>
<circle cx="125.7" cy="288.0" r="8.62" fill="#d4d6d0" opacity="0.45"/>
<circle cx="113.1" cy="288.0" r="1.5" fill="#3c403c" opacity="0.4"/>
<circle cx="133.6" cy="283.9" r="2.3" fill="#3c403c" opacity="0.4"/>
<circle cx="136.4" cy="299.4" r="1.8" fill="#3c403c" opacity="0.4"/>
<circle cx="135.6" cy="288.7" r="1.8" fill="#3c403c" opacity="0.4"/>
<circle cx="123.2" cy="281.1" r="1.5" fill="#d8dcd4" opacity="0.4"/>
<circle cx="119.7" cy="278.3" r="1.6" fill="#d8dcd4" opacity="0.4"/>
<circle cx="139.7" cy="289.9" r="6.500000000000001" fill="#d4d6d0" opacity="0.45"/>
<circle cx="143.4" cy="299.7" r="2.6" fill="#3c403c" opacity="0.4"/>
<circle cx="145.8" cy="299.7" r="1.7" fill="#3c403c" opacity="0.4"/>
<circle cx="135.2" cy="285.9" r="2.1" fill="#3c403c" opacity="0.4"/>
<circle cx="148.1" cy="285.1" r="2.1" fill="#3c403c" opacity="0.4"/>
<circle cx="129.9" cy="291.7" r="1.3" fill="#d8dcd4" opacity="0.4"/>
<circle cx="145.6" cy="282.8" r="1.7" fill="#d8dcd4" opacity="0.4"/>
<circle cx="146.7" cy="287.9" r="6.500000000000001" fill="#d4d6d0" opacity="0.45"/>
<circle cx="142.6" cy="282.5" r="1.7" fill="#3c403c" opacity="0.4"/>
<circle cx="148.2" cy="299.4" r="2.0" fill="#3c403c" opacity="0.4"/>
<circle cx="140.1" cy="289.3" r="2.1" fill="#3c403c" opacity="0.4"/>
<circle cx="138.1" cy="293.1" r="2.0" fill="#3c403c" opacity="0.4"/>
<circle cx="154.3" cy="286.6" r="1.8" fill="#d8dcd4" opacity="0.4"/>
<circle cx="158.0" cy="289.5" r="1.6" fill="#d8dcd4" opacity="0.4"/>
<circle cx="78.7" cy="300.2" r="10.74" fill="#d4d6d0" opacity="0.45"/>
<circle cx="77.7" cy="288.6" r="1.8" fill="#3c403c" opacity="0.4"/>
<circle cx="86.8" cy="295.4" r="2.6" fill="#3c403c" opacity="0.4"/>
<circle cx="66.9" cy="304.7" r="2.4" fill="#3c403c" opacity="0.4"/>
<circle cx="69.9" cy="291.7" r="2.4" fill="#3c403c" opacity="0.4"/>
<circle cx="83.1" cy="290.5" r="2.4" fill="#d8dcd4" opacity="0.4"/>
<circle cx="93.6" cy="310.3" r="2.1" fill="#d8dcd4" opacity="0.4"/>
<circle cx="92.7" cy="298.7" r="7.03" fill="#d4d6d0" opacity="0.45"/>
<circle cx="93.0" cy="312.0" r="1.8" fill="#3c403c" opacity="0.4"/>
<circle cx="82.1" cy="298.5" r="1.5" fill="#3c403c" opacity="0.4"/>
<circle cx="91.1" cy="311.1" r="1.3" fill="#3c403c" opacity="0.4"/>
<circle cx="82.8" cy="297.3" r="1.9" fill="#3c403c" opacity="0.4"/>
<circle cx="93.6" cy="312.8" r="2.2" fill="#d8dcd4" opacity="0.4"/>
<circle cx="94.4" cy="290.5" r="2.3" fill="#d8dcd4" opacity="0.4"/>
<circle cx="105.7" cy="316.7" r="7.03" fill="#d4d6d0" opacity="0.45"/>
<circle cx="108.3" cy="311.3" r="1.7" fill="#3c403c" opacity="0.4"/>
<circle cx="112.1" cy="323.4" r="1.7" fill="#3c403c" opacity="0.4"/>
<circle cx="113.3" cy="310.7" r="1.4" fill="#3c403c" opacity="0.4"/>
<circle cx="109.8" cy="327.3" r="2.4" fill="#3c403c" opacity="0.4"/>
<circle cx="96.8" cy="310.7" r="1.3" fill="#d8dcd4" opacity="0.4"/>
<circle cx="114.8" cy="318.3" r="2.0" fill="#d8dcd4" opacity="0.4"/>
<circle cx="66.7" cy="325.0" r="8.62" fill="#d4d6d0" opacity="0.45"/>
<circle cx="75.7" cy="319.4" r="1.5" fill="#3c403c" opacity="0.4"/>
<circle cx="61.7" cy="318.5" r="1.2" fill="#3c403c" opacity="0.4"/>
<circle cx="61.5" cy="336.8" r="2.1" fill="#3c403c" opacity="0.4"/>
<circle cx="64.9" cy="339.4" r="2.2" fill="#3c403c" opacity="0.4"/>
<circle cx="71.3" cy="337.1" r="2.0" fill="#d8dcd4" opacity="0.4"/>
<circle cx="57.2" cy="330.1" r="1.3" fill="#d8dcd4" opacity="0.4"/>
<circle cx="132.7" cy="310.9" r="6.500000000000001" fill="#d4d6d0" opacity="0.45"/>
<circle cx="141.9" cy="309.5" r="1.7" fill="#3c403c" opacity="0.4"/>
<circle cx="136.7" cy="323.6" r="2.2" fill="#3c403c" opacity="0.4"/>
<circle cx="132.3" cy="304.6" r="1.6" fill="#3c403c" opacity="0.4"/>
<circle cx="126.8" cy="317.1" r="2.1" fill="#3c403c" opacity="0.4"/>
<circle cx="122.9" cy="318.2" r="1.7" fill="#d8dcd4" opacity="0.4"/>
<circle cx="123.5" cy="315.7" r="2.3" fill="#d8dcd4" opacity="0.4"/>
<circle cx="140.7" cy="319.9" r="6.500000000000001" fill="#d4d6d0" opacity="0.45"/>
<circle cx="135.3" cy="330.2" r="1.5" fill="#3c403c" opacity="0.4"/>
<circle cx="133.9" cy="318.2" r="2.4" fill="#3c403c" opacity="0.4"/>
<circle cx="138.6" cy="332.4" r="2.1" fill="#3c403c" opacity="0.4"/>
<circle cx="130.4" cy="325.1" r="1.7" fill="#3c403c" opacity="0.4"/>
<circle cx="140.5" cy="311.7" r="1.7" fill="#d8dcd4" opacity="0.4"/>
<circle cx="149.6" cy="325.7" r="1.5" fill="#d8dcd4" opacity="0.4"/>
<circle cx="135.7" cy="322.1" r="5.970000000000001" fill="#d4d6d0" opacity="0.45"/>
<circle cx="126.2" cy="327.8" r="1.6" fill="#3c403c" opacity="0.4"/>
<circle cx="132.8" cy="315.3" r="1.5" fill="#3c403c" opacity="0.4"/>
<circle cx="130.2" cy="327.6" r="2.5" fill="#3c403c" opacity="0.4"/>
<circle cx="135.9" cy="332.2" r="1.7" fill="#3c403c" opacity="0.4"/>
<circle cx="140.7" cy="314.0" r="1.9" fill="#d8dcd4" opacity="0.4"/>
<circle cx="129.0" cy="321.9" r="2.3" fill="#d8dcd4" opacity="0.4"/>
<circle cx="149.7" cy="325.9" r="6.500000000000001" fill="#d4d6d0" opacity="0.45"/>
<circle cx="157.2" cy="332.4" r="1.7" fill="#3c403c" opacity="0.4"/>
<circle cx="148.3" cy="318.3" r="1.7" fill="#3c403c" opacity="0.4"/>
<circle cx="158.9" cy="321.3" r="1.2" fill="#3c403c" opacity="0.4"/>
<circle cx="144.0" cy="321.4" r="1.7" fill="#3c403c" opacity="0.4"/>
<circle cx="141.3" cy="330.0" r="2.0" fill="#d8dcd4" opacity="0.4"/>
<circle cx="140.4" cy="320.5" r="2.4" fill="#d8dcd4" opacity="0.4"/>
<circle cx="153.7" cy="339.9" r="6.500000000000001" fill="#d4d6d0" opacity="0.45"/>
<circle cx="162.6" cy="341.6" r="2.4" fill="#3c403c" opacity="0.4"/>
<circle cx="148.1" cy="334.0" r="2.6" fill="#3c403c" opacity="0.4"/>
<circle cx="162.1" cy="345.6" r="1.8" fill="#3c403c" opacity="0.4"/>
<circle cx="149.7" cy="335.5" r="2.6" fill="#3c403c" opacity="0.4"/>
<circle cx="156.3" cy="350.9" r="1.4" fill="#d8dcd4" opacity="0.4"/>
<circle cx="145.3" cy="348.8" r="1.3" fill="#d8dcd4" opacity="0.4"/>
<circle cx="162.7" cy="342.5" r="7.5600000000000005" fill="#d4d6d0" opacity="0.45"/>
<circle cx="168.4" cy="354.3" r="2.1" fill="#3c403c" opacity="0.4"/>
<circle cx="162.5" cy="336.0" r="2.3" fill="#3c403c" opacity="0.4"/>
<circle cx="161.6" cy="333.7" r="1.4" fill="#3c403c" opacity="0.4"/>
<circle cx="155.2" cy="346.6" r="2.4" fill="#3c403c" opacity="0.4"/>
<circle cx="175.1" cy="340.6" r="1.2" fill="#d8dcd4" opacity="0.4"/>
<circle cx="156.5" cy="353.9" r="1.8" fill="#d8dcd4" opacity="0.4"/>
<circle cx="49.7" cy="341.9" r="6.500000000000001" fill="#d4d6d0" opacity="0.45"/>
<circle cx="57.9" cy="350.7" r="1.6" fill="#3c403c" opacity="0.4"/>
<circle cx="42.6" cy="343.7" r="2.0" fill="#3c403c" opacity="0.4"/>
<circle cx="54.9" cy="349.2" r="1.9" fill="#3c403c" opacity="0.4"/>
<circle cx="47.2" cy="353.9" r="1.5" fill="#3c403c" opacity="0.4"/>
<circle cx="43.5" cy="347.9" r="1.5" fill="#d8dcd4" opacity="0.4"/>
<circle cx="40.4" cy="347.0" r="1.8" fill="#d8dcd4" opacity="0.4"/>
<circle cx="177.7" cy="301.9" r="6.500000000000001" fill="#d4d6d0" opacity="0.45"/>
<circle cx="182.3" cy="298.1" r="2.4" fill="#3c403c" opacity="0.4"/>
<circle cx="184.3" cy="313.2" r="1.9" fill="#3c403c" opacity="0.4"/>
<circle cx="170.1" cy="309.3" r="2.4" fill="#3c403c" opacity="0.4"/>
<circle cx="186.4" cy="302.0" r="1.2" fill="#3c403c" opacity="0.4"/>
<circle cx="184.5" cy="313.4" r="2.1" fill="#d8dcd4" opacity="0.4"/>
<circle cx="176.1" cy="296.1" r="1.8" fill="#d8dcd4" opacity="0.4"/>
<circle cx="193.7" cy="222.5" r="7.5600000000000005" fill="#d4d6d0" opacity="0.45"/>
<circle cx="202.2" cy="226.5" r="1.6" fill="#3c403c" opacity="0.4"/>
<circle cx="204.5" cy="222.7" r="2.4" fill="#3c403c" opacity="0.4"/>
<circle cx="203.3" cy="227.8" r="1.3" fill="#3c403c" opacity="0.4"/>
<circle cx="193.4" cy="233.3" r="2.5" fill="#3c403c" opacity="0.4"/>
<circle cx="188.9" cy="234.5" r="2.0" fill="#d8dcd4" opacity="0.4"/>
<circle cx="203.9" cy="216.4" r="1.9" fill="#d8dcd4" opacity="0.4"/>
<circle cx="199.7" cy="223.9" r="6.500000000000001" fill="#d4d6d0" opacity="0.45"/>
<circle cx="189.1" cy="226.0" r="1.8" fill="#3c403c" opacity="0.4"/>
<circle cx="196.9" cy="235.6" r="1.6" fill="#3c403c" opacity="0.4"/>
<circle cx="194.1" cy="232.5" r="1.9" fill="#3c403c" opacity="0.4"/>
<circle cx="194.5" cy="232.8" r="1.8" fill="#3c403c" opacity="0.4"/>
<circle cx="210.9" cy="229.5" r="1.3" fill="#d8dcd4" opacity="0.4"/>
<circle cx="190.1" cy="224.3" r="1.7" fill="#d8dcd4" opacity="0.4"/>
<circle cx="181.7" cy="220.9" r="6.500000000000001" fill="#d4d6d0" opacity="0.45"/>
<circle cx="183.2" cy="230.1" r="1.7" fill="#3c403c" opacity="0.4"/>
<circle cx="178.5" cy="231.3" r="1.5" fill="#3c403c" opacity="0.4"/>
<circle cx="181.9" cy="214.0" r="1.2" fill="#3c403c" opacity="0.4"/>
<circle cx="172.7" cy="229.2" r="1.2" fill="#3c403c" opacity="0.4"/>
<circle cx="171.9" cy="216.3" r="1.6" fill="#d8dcd4" opacity="0.4"/>
<circle cx="174.5" cy="217.7" r="1.6" fill="#d8dcd4" opacity="0.4"/>
<circle cx="202.7" cy="236.5" r="7.5600000000000005" fill="#d4d6d0" opacity="0.45"/>
<circle cx="194.9" cy="232.4" r="1.6" fill="#3c403c" opacity="0.4"/>
<circle cx="192.8" cy="239.2" r="2.3" fill="#3c403c" opacity="0.4"/>
<circle cx="210.8" cy="241.7" r="1.6" fill="#3c403c" opacity="0.4"/>
<circle cx="201.6" cy="250.4" r="1.8" fill="#3c403c" opacity="0.4"/>
<circle cx="209.6" cy="231.0" r="1.5" fill="#d8dcd4" opacity="0.4"/>
<circle cx="199.2" cy="231.1" r="2.4" fill="#d8dcd4" opacity="0.4"/>
<circle cx="218.7" cy="239.5" r="7.5600000000000005" fill="#d4d6d0" opacity="0.45"/>
<circle cx="223.6" cy="233.8" r="1.6" fill="#3c403c" opacity="0.4"/>
<circle cx="223.8" cy="231.6" r="2.1" fill="#3c403c" opacity="0.4"/>
<circle cx="229.6" cy="245.9" r="1.3" fill="#3c403c" opacity="0.4"/>
<circle cx="211.7" cy="234.7" r="2.5" fill="#3c403c" opacity="0.4"/>
<circle cx="213.5" cy="235.5" r="2.3" fill="#d8dcd4" opacity="0.4"/>
<circle cx="219.2" cy="230.7" r="1.2" fill="#d8dcd4" opacity="0.4"/>
<circle cx="239.7" cy="238.8" r="9.15" fill="#d4d6d0" opacity="0.45"/>
<circle cx="239.0" cy="230.7" r="2.2" fill="#3c403c" opacity="0.4"/>
<circle cx="253.5" cy="240.6" r="1.3" fill="#3c403c" opacity="0.4"/>
<circle cx="242.2" cy="230.8" r="2.3" fill="#3c403c" opacity="0.4"/>
<circle cx="231.8" cy="250.0" r="1.8" fill="#3c403c" opacity="0.4"/>
<circle cx="248.5" cy="249.8" r="2.1" fill="#d8dcd4" opacity="0.4"/>
<circle cx="249.5" cy="246.6" r="2.2" fill="#d8dcd4" opacity="0.4"/>
<circle cx="237.7" cy="230.7" r="7.03" fill="#d4d6d0" opacity="0.45"/>
<circle cx="233.1" cy="224.5" r="1.4" fill="#3c403c" opacity="0.4"/>
<circle cx="244.4" cy="238.9" r="2.5" fill="#3c403c" opacity="0.4"/>
<circle cx="227.3" cy="228.8" r="1.5" fill="#3c403c" opacity="0.4"/>
<circle cx="229.6" cy="238.0" r="2.4" fill="#3c403c" opacity="0.4"/>
<circle cx="246.7" cy="241.5" r="1.8" fill="#d8dcd4" opacity="0.4"/>
<circle cx="247.8" cy="235.0" r="1.7" fill="#d8dcd4" opacity="0.4"/>
<circle cx="264.7" cy="233.6" r="9.68" fill="#d4d6d0" opacity="0.45"/>
<circle cx="258.5" cy="224.4" r="1.9" fill="#3c403c" opacity="0.4"/>
<circle cx="260.6" cy="226.1" r="2.3" fill="#3c403c" opacity="0.4"/>
<circle cx="275.5" cy="245.2" r="1.4" fill="#3c403c" opacity="0.4"/>
<circle cx="255.6" cy="231.4" r="1.7" fill="#3c403c" opacity="0.4"/>
<circle cx="271.3" cy="247.5" r="1.9" fill="#d8dcd4" opacity="0.4"/>
<circle cx="252.7" cy="235.5" r="1.9" fill="#d8dcd4" opacity="0.4"/>
<circle cx="269.7" cy="229.3" r="5.44" fill="#d4d6d0" opacity="0.45"/>
<circle cx="274.0" cy="224.8" r="2.0" fill="#3c403c" opacity="0.4"/>
<circle cx="259.9" cy="232.3" r="1.7" fill="#3c403c" opacity="0.4"/>
<circle cx="267.8" cy="224.6" r="1.6" fill="#3c403c" opacity="0.4"/>
<circle cx="269.0" cy="222.7" r="1.6" fill="#3c403c" opacity="0.4"/>
<circle cx="279.5" cy="235.1" r="1.7" fill="#d8dcd4" opacity="0.4"/>
<circle cx="268.2" cy="222.8" r="1.9" fill="#d8dcd4" opacity="0.4"/>
<circle cx="279.7" cy="219.3" r="5.44" fill="#d4d6d0" opacity="0.45"/>
<circle cx="270.6" cy="217.3" r="2.5" fill="#3c403c" opacity="0.4"/>
<circle cx="272.4" cy="223.2" r="1.5" fill="#3c403c" opacity="0.4"/>
<circle cx="280.1" cy="214.8" r="1.6" fill="#3c403c" opacity="0.4"/>
<circle cx="283.4" cy="216.2" r="2.2" fill="#3c403c" opacity="0.4"/>
<circle cx="271.8" cy="217.3" r="1.6" fill="#d8dcd4" opacity="0.4"/>
<circle cx="286.4" cy="230.0" r="2.1" fill="#d8dcd4" opacity="0.4"/>
<circle cx="186.7" cy="254.0" r="8.62" fill="#d4d6d0" opacity="0.45"/>
<circle cx="190.2" cy="248.2" r="2.3" fill="#3c403c" opacity="0.4"/>
<circle cx="188.9" cy="266.6" r="1.9" fill="#3c403c" opacity="0.4"/>
<circle cx="179.7" cy="251.0" r="2.3" fill="#3c403c" opacity="0.4"/>
<circle cx="175.7" cy="250.6" r="2.5" fill="#3c403c" opacity="0.4"/>
<circle cx="182.8" cy="246.6" r="2.3" fill="#d8dcd4" opacity="0.4"/>
<circle cx="184.8" cy="246.3" r="2.2" fill="#d8dcd4" opacity="0.4"/>
<circle cx="222.7" cy="255.3" r="5.44" fill="#d4d6d0" opacity="0.45"/>
<circle cx="222.0" cy="250.1" r="1.5" fill="#3c403c" opacity="0.4"/>
<circle cx="231.1" cy="258.0" r="1.6" fill="#3c403c" opacity="0.4"/>
<circle cx="221.2" cy="263.6" r="1.4" fill="#3c403c" opacity="0.4"/>
<circle cx="216.1" cy="257.7" r="1.6" fill="#3c403c" opacity="0.4"/>
<circle cx="221.5" cy="265.7" r="2.2" fill="#d8dcd4" opacity="0.4"/>
<circle cx="228.6" cy="265.9" r="2.2" fill="#d8dcd4" opacity="0.4"/>
<circle cx="236.7" cy="255.6" r="9.68" fill="#d4d6d0" opacity="0.45"/>
<circle cx="227.4" cy="251.1" r="2.2" fill="#3c403c" opacity="0.4"/>
<circle cx="224.3" cy="256.2" r="2.5" fill="#3c403c" opacity="0.4"/>
<circle cx="238.7" cy="248.0" r="1.3" fill="#3c403c" opacity="0.4"/>
<circle cx="247.7" cy="254.5" r="2.3" fill="#3c403c" opacity="0.4"/>
<circle cx="238.3" cy="271.7" r="1.6" fill="#d8dcd4" opacity="0.4"/>
<circle cx="235.0" cy="243.9" r="1.8" fill="#d8dcd4" opacity="0.4"/>
<circle cx="198.7" cy="279.0" r="8.62" fill="#d4d6d0" opacity="0.45"/>
<circle cx="189.4" cy="277.8" r="1.5" fill="#3c403c" opacity="0.4"/>
<circle cx="207.9" cy="279.1" r="2.5" fill="#3c403c" opacity="0.4"/>
<circle cx="193.9" cy="274.3" r="2.5" fill="#3c403c" opacity="0.4"/>
<circle cx="208.2" cy="288.9" r="1.4" fill="#3c403c" opacity="0.4"/>
<circle cx="209.9" cy="281.2" r="2.2" fill="#d8dcd4" opacity="0.4"/>
<circle cx="210.8" cy="286.8" r="1.3" fill="#d8dcd4" opacity="0.4"/>
<circle cx="197.7" cy="284.9" r="6.500000000000001" fill="#d4d6d0" opacity="0.45"/>
<circle cx="207.2" cy="288.7" r="2.6" fill="#3c403c" opacity="0.4"/>
<circle cx="193.8" cy="277.2" r="2.3" fill="#3c403c" opacity="0.4"/>
<circle cx="190.9" cy="286.1" r="1.9" fill="#3c403c" opacity="0.4"/>
<circle cx="201.7" cy="295.4" r="1.7" fill="#3c403c" opacity="0.4"/>
<circle cx="189.7" cy="287.1" r="2.0" fill="#d8dcd4" opacity="0.4"/>
<circle cx="189.6" cy="291.8" r="1.3" fill="#d8dcd4" opacity="0.4"/>
<circle cx="209.7" cy="291.1" r="5.970000000000001" fill="#d4d6d0" opacity="0.45"/>
<circle cx="201.3" cy="293.7" r="2.6" fill="#3c403c" opacity="0.4"/>
<circle cx="203.6" cy="290.4" r="1.6" fill="#3c403c" opacity="0.4"/>
<circle cx="205.2" cy="301.1" r="2.5" fill="#3c403c" opacity="0.4"/>
<circle cx="220.4" cy="291.4" r="2.5" fill="#3c403c" opacity="0.4"/>
<circle cx="217.2" cy="284.1" r="1.2" fill="#d8dcd4" opacity="0.4"/>
<circle cx="200.3" cy="293.6" r="2.0" fill="#d8dcd4" opacity="0.4"/>
<circle cx="220.7" cy="288.7" r="7.03" fill="#d4d6d0" opacity="0.45"/>
<circle cx="213.3" cy="284.5" r="2.5" fill="#3c403c" opacity="0.4"/>
<circle cx="229.3" cy="296.0" r="2.5" fill="#3c403c" opacity="0.4"/>
<circle cx="228.7" cy="292.6" r="2.4" fill="#3c403c" opacity="0.4"/>
<circle cx="228.2" cy="289.0" r="1.2" fill="#3c403c" opacity="0.4"/>
<circle cx="226.4" cy="281.1" r="1.8" fill="#d8dcd4" opacity="0.4"/>
<circle cx="210.8" cy="285.4" r="2.2" fill="#d8dcd4" opacity="0.4"/>
<circle cx="220.7" cy="294.9" r="6.500000000000001" fill="#d4d6d0" opacity="0.45"/>
<circle cx="228.1" cy="297.0" r="2.3" fill="#3c403c" opacity="0.4"/>
<circle cx="231.4" cy="295.3" r="1.8" fill="#3c403c" opacity="0.4"/>
<circle cx="216.7" cy="304.2" r="1.2" fill="#3c403c" opacity="0.4"/>
<circle cx="222.0" cy="289.1" r="2.0" fill="#3c403c" opacity="0.4"/>
<circle cx="212.1" cy="295.5" r="2.0" fill="#d8dcd4" opacity="0.4"/>
<circle cx="212.9" cy="299.4" r="2.3" fill="#d8dcd4" opacity="0.4"/>
<circle cx="229.7" cy="284.9" r="6.500000000000001" fill="#d4d6d0" opacity="0.45"/>
<circle cx="233.4" cy="293.7" r="1.6" fill="#3c403c" opacity="0.4"/>
<circle cx="219.8" cy="288.4" r="1.7" fill="#3c403c" opacity="0.4"/>
<circle cx="230.7" cy="296.7" r="1.6" fill="#3c403c" opacity="0.4"/>
<circle cx="222.1" cy="285.9" r="2.4" fill="#3c403c" opacity="0.4"/>
<circle cx="233.4" cy="294.8" r="1.6" fill="#d8dcd4" opacity="0.4"/>
<circle cx="224.8" cy="296.6" r="2.0" fill="#d8dcd4" opacity="0.4"/>
<circle cx="233.7" cy="293.6" r="9.68" fill="#d4d6d0" opacity="0.45"/>
<circle cx="237.1" cy="285.0" r="1.3" fill="#3c403c" opacity="0.4"/>
<circle cx="234.9" cy="286.0" r="1.5" fill="#3c403c" opacity="0.4"/>
<circle cx="221.6" cy="304.4" r="1.7" fill="#3c403c" opacity="0.4"/>
<circle cx="225.3" cy="308.1" r="2.6" fill="#3c403c" opacity="0.4"/>
<circle cx="225.5" cy="304.3" r="2.1" fill="#d8dcd4" opacity="0.4"/>
<circle cx="236.4" cy="285.1" r="2.1" fill="#d8dcd4" opacity="0.4"/>
<circle cx="237.7" cy="293.1" r="5.970000000000001" fill="#d4d6d0" opacity="0.45"/>
<circle cx="232.5" cy="300.2" r="2.0" fill="#3c403c" opacity="0.4"/>
<circle cx="237.5" cy="286.6" r="2.3" fill="#3c403c" opacity="0.4"/>
<circle cx="246.5" cy="295.7" r="1.7" fill="#3c403c" opacity="0.4"/>
<circle cx="247.5" cy="299.1" r="1.4" fill="#3c403c" opacity="0.4"/>
<circle cx="241.1" cy="305.7" r="2.4" fill="#d8dcd4" opacity="0.4"/>
<circle cx="245.7" cy="291.4" r="2.3" fill="#d8dcd4" opacity="0.4"/>
<circle cx="247.7" cy="286.7" r="7.03" fill="#d4d6d0" opacity="0.45"/>
<circle cx="254.6" cy="297.2" r="2.5" fill="#3c403c" opacity="0.4"/>
<circle cx="250.8" cy="296.4" r="2.1" fill="#3c403c" opacity="0.4"/>
<circle cx="255.8" cy="281.8" r="2.5" fill="#3c403c" opacity="0.4"/>
<circle cx="239.4" cy="291.6" r="1.4" fill="#3c403c" opacity="0.4"/>
<circle cx="246.2" cy="301.4" r="1.3" fill="#d8dcd4" opacity="0.4"/>
<circle cx="251.8" cy="297.8" r="1.3" fill="#d8dcd4" opacity="0.4"/>
<circle cx="250.7" cy="301.6" r="9.68" fill="#d4d6d0" opacity="0.45"/>
<circle cx="247.2" cy="315.1" r="1.4" fill="#3c403c" opacity="0.4"/>
<circle cx="238.8" cy="302.9" r="2.0" fill="#3c403c" opacity="0.4"/>
<circle cx="251.9" cy="292.7" r="2.5" fill="#3c403c" opacity="0.4"/>
<circle cx="260.6" cy="310.4" r="1.3" fill="#3c403c" opacity="0.4"/>
<circle cx="245.8" cy="318.3" r="2.3" fill="#d8dcd4" opacity="0.4"/>
<circle cx="239.7" cy="304.7" r="1.6" fill="#d8dcd4" opacity="0.4"/>
<circle cx="250.7" cy="302.9" r="6.500000000000001" fill="#d4d6d0" opacity="0.45"/>
<circle cx="243.6" cy="301.6" r="2.3" fill="#3c403c" opacity="0.4"/>
<circle cx="259.7" cy="303.5" r="2.0" fill="#3c403c" opacity="0.4"/>
<circle cx="256.0" cy="297.7" r="1.5" fill="#3c403c" opacity="0.4"/>
<circle cx="261.5" cy="301.1" r="1.2" fill="#3c403c" opacity="0.4"/>
<circle cx="251.7" cy="295.7" r="1.3" fill="#d8dcd4" opacity="0.4"/>
<circle cx="255.3" cy="312.0" r="2.1" fill="#d8dcd4" opacity="0.4"/>
<circle cx="246.7" cy="310.1" r="5.970000000000001" fill="#d4d6d0" opacity="0.45"/>
<circle cx="248.5" cy="318.2" r="1.5" fill="#3c403c" opacity="0.4"/>
<circle cx="249.6" cy="303.9" r="2.1" fill="#3c403c" opacity="0.4"/>
<circle cx="240.1" cy="313.6" r="1.2" fill="#3c403c" opacity="0.4"/>
<circle cx="244.8" cy="318.1" r="1.6" fill="#3c403c" opacity="0.4"/>
<circle cx="240.7" cy="306.2" r="1.8" fill="#d8dcd4" opacity="0.4"/>
<circle cx="241.0" cy="306.1" r="1.6" fill="#d8dcd4" opacity="0.4"/>
<circle cx="237.7" cy="304.9" r="6.500000000000001" fill="#d4d6d0" opacity="0.45"/>
<circle cx="245.0" cy="300.7" r="1.8" fill="#3c403c" opacity="0.4"/>
<circle cx="229.4" cy="304.8" r="1.7" fill="#3c403c" opacity="0.4"/>
<circle cx="244.7" cy="302.9" r="2.5" fill="#3c403c" opacity="0.4"/>
<circle cx="244.5" cy="298.4" r="1.4" fill="#3c403c" opacity="0.4"/>
<circle cx="225.8" cy="306.3" r="1.5" fill="#d8dcd4" opacity="0.4"/>
<circle cx="243.2" cy="316.6" r="1.5" fill="#d8dcd4" opacity="0.4"/>
<circle cx="187.7" cy="303.6" r="9.68" fill="#d4d6d0" opacity="0.45"/>
<circle cx="178.7" cy="301.7" r="2.5" fill="#3c403c" opacity="0.4"/>
<circle cx="185.8" cy="317.2" r="2.2" fill="#3c403c" opacity="0.4"/>
<circle cx="180.9" cy="317.3" r="1.9" fill="#3c403c" opacity="0.4"/>
<circle cx="198.9" cy="301.2" r="1.7" fill="#3c403c" opacity="0.4"/>
<circle cx="201.0" cy="307.1" r="1.5" fill="#d8dcd4" opacity="0.4"/>
<circle cx="175.8" cy="300.9" r="1.8" fill="#d8dcd4" opacity="0.4"/>
<circle cx="195.7" cy="300.3" r="5.44" fill="#d4d6d0" opacity="0.45"/>
<circle cx="202.7" cy="306.3" r="1.9" fill="#3c403c" opacity="0.4"/>
<circle cx="189.6" cy="294.2" r="1.6" fill="#3c403c" opacity="0.4"/>
<circle cx="190.3" cy="304.2" r="2.3" fill="#3c403c" opacity="0.4"/>
<circle cx="196.9" cy="311.4" r="2.3" fill="#3c403c" opacity="0.4"/>
<circle cx="195.7" cy="312.7" r="1.8" fill="#d8dcd4" opacity="0.4"/>
<circle cx="187.9" cy="306.0" r="2.3" fill="#d8dcd4" opacity="0.4"/>
<circle cx="196.7" cy="309.3" r="5.44" fill="#d4d6d0" opacity="0.45"/>
<circle cx="189.1" cy="311.5" r="1.6" fill="#3c403c" opacity="0.4"/>
<circle cx="201.3" cy="304.3" r="1.7" fill="#3c403c" opacity="0.4"/>
<circle cx="199.2" cy="317.3" r="2.4" fill="#3c403c" opacity="0.4"/>
<circle cx="200.3" cy="301.4" r="2.5" fill="#3c403c" opacity="0.4"/>
<circle cx="192.9" cy="301.6" r="2.1" fill="#d8dcd4" opacity="0.4"/>
<circle cx="200.7" cy="301.5" r="1.4" fill="#d8dcd4" opacity="0.4"/>
<circle cx="207.7" cy="304.7" r="7.03" fill="#d4d6d0" opacity="0.45"/>
<circle cx="211.4" cy="299.0" r="1.5" fill="#3c403c" opacity="0.4"/>
<circle cx="214.5" cy="303.4" r="1.9" fill="#3c403c" opacity="0.4"/>
<circle cx="202.0" cy="316.1" r="2.1" fill="#3c403c" opacity="0.4"/>
<circle cx="217.8" cy="300.9" r="2.1" fill="#3c403c" opacity="0.4"/>
<circle cx="218.3" cy="311.4" r="1.3" fill="#d8dcd4" opacity="0.4"/>
<circle cx="220.1" cy="305.6" r="1.6" fill="#d8dcd4" opacity="0.4"/>
<circle cx="209.7" cy="314.1" r="5.970000000000001" fill="#d4d6d0" opacity="0.45"/>
<circle cx="213.7" cy="324.6" r="2.3" fill="#3c403c" opacity="0.4"/>
<circle cx="219.0" cy="315.1" r="1.4" fill="#3c403c" opacity="0.4"/>
<circle cx="209.0" cy="309.5" r="2.4" fill="#3c403c" opacity="0.4"/>
<circle cx="211.1" cy="306.3" r="2.4" fill="#3c403c" opacity="0.4"/>
<circle cx="199.6" cy="311.2" r="2.0" fill="#d8dcd4" opacity="0.4"/>
<circle cx="201.3" cy="316.5" r="1.6" fill="#d8dcd4" opacity="0.4"/>
<circle cx="223.7" cy="308.7" r="7.03" fill="#d4d6d0" opacity="0.45"/>
<circle cx="232.0" cy="312.2" r="2.3" fill="#3c403c" opacity="0.4"/>
<circle cx="225.4" cy="321.2" r="2.3" fill="#3c403c" opacity="0.4"/>
<circle cx="220.7" cy="301.9" r="1.6" fill="#3c403c" opacity="0.4"/>
<circle cx="222.8" cy="319.1" r="2.1" fill="#3c403c" opacity="0.4"/>
<circle cx="219.1" cy="299.5" r="1.6" fill="#d8dcd4" opacity="0.4"/>
<circle cx="235.1" cy="305.5" r="1.5" fill="#d8dcd4" opacity="0.4"/>
<circle cx="252.7" cy="324.6" r="9.68" fill="#d4d6d0" opacity="0.45"/>
<circle cx="265.2" cy="324.2" r="2.5" fill="#3c403c" opacity="0.4"/>
<circle cx="254.7" cy="316.6" r="1.6" fill="#3c403c" opacity="0.4"/>
<circle cx="240.9" cy="326.3" r="1.2" fill="#3c403c" opacity="0.4"/>
<circle cx="261.0" cy="318.6" r="1.9" fill="#3c403c" opacity="0.4"/>
<circle cx="252.6" cy="316.3" r="1.4" fill="#d8dcd4" opacity="0.4"/>
<circle cx="242.8" cy="322.3" r="1.6" fill="#d8dcd4" opacity="0.4"/>
<circle cx="277.7" cy="309.5" r="7.5600000000000005" fill="#d4d6d0" opacity="0.45"/>
<circle cx="285.3" cy="315.4" r="1.7" fill="#3c403c" opacity="0.4"/>
<circle cx="266.0" cy="310.0" r="2.1" fill="#3c403c" opacity="0.4"/>
<circle cx="269.7" cy="317.0" r="1.5" fill="#3c403c" opacity="0.4"/>
<circle cx="266.0" cy="314.0" r="1.4" fill="#3c403c" opacity="0.4"/>
<circle cx="267.2" cy="316.8" r="2.1" fill="#d8dcd4" opacity="0.4"/>
<circle cx="267.1" cy="308.1" r="2.3" fill="#d8dcd4" opacity="0.4"/>
<circle cx="283.7" cy="332.5" r="7.5600000000000005" fill="#d4d6d0" opacity="0.45"/>
<circle cx="291.3" cy="329.8" r="2.0" fill="#3c403c" opacity="0.4"/>
<circle cx="294.2" cy="334.8" r="1.5" fill="#3c403c" opacity="0.4"/>
<circle cx="284.8" cy="326.9" r="1.4" fill="#3c403c" opacity="0.4"/>
<circle cx="275.4" cy="332.1" r="2.2" fill="#3c403c" opacity="0.4"/>
<circle cx="282.5" cy="325.2" r="2.1" fill="#d8dcd4" opacity="0.4"/>
<circle cx="276.9" cy="325.5" r="1.7" fill="#d8dcd4" opacity="0.4"/>
<circle cx="306.7" cy="324.6" r="9.68" fill="#d4d6d0" opacity="0.45"/>
<circle cx="297.5" cy="332.3" r="1.9" fill="#3c403c" opacity="0.4"/>
<circle cx="320.4" cy="324.0" r="1.3" fill="#3c403c" opacity="0.4"/>
<circle cx="317.1" cy="332.8" r="2.2" fill="#3c403c" opacity="0.4"/>
<circle cx="297.3" cy="332.0" r="1.8" fill="#3c403c" opacity="0.4"/>
<circle cx="294.3" cy="321.7" r="1.7" fill="#d8dcd4" opacity="0.4"/>
<circle cx="298.8" cy="316.8" r="1.9" fill="#d8dcd4" opacity="0.4"/>
<circle cx="300.7" cy="344.5" r="7.5600000000000005" fill="#d4d6d0" opacity="0.45"/>
<circle cx="311.6" cy="350.2" r="1.4" fill="#3c403c" opacity="0.4"/>
<circle cx="310.4" cy="350.4" r="1.2" fill="#3c403c" opacity="0.4"/>
<circle cx="309.6" cy="351.3" r="1.9" fill="#3c403c" opacity="0.4"/>
<circle cx="310.6" cy="354.5" r="2.4" fill="#3c403c" opacity="0.4"/>
<circle cx="289.7" cy="348.0" r="1.6" fill="#d8dcd4" opacity="0.4"/>
<circle cx="309.9" cy="346.1" r="1.6" fill="#d8dcd4" opacity="0.4"/>
<circle cx="311.7" cy="277.9" r="6.500000000000001" fill="#d4d6d0" opacity="0.45"/>
<circle cx="313.9" cy="290.5" r="1.9" fill="#3c403c" opacity="0.4"/>
<circle cx="304.7" cy="284.6" r="2.4" fill="#3c403c" opacity="0.4"/>
<circle cx="311.5" cy="290.3" r="2.2" fill="#3c403c" opacity="0.4"/>
<circle cx="304.0" cy="282.7" r="1.8" fill="#3c403c" opacity="0.4"/>
<circle cx="303.5" cy="282.6" r="1.9" fill="#d8dcd4" opacity="0.4"/>
<circle cx="304.5" cy="284.7" r="2.1" fill="#d8dcd4" opacity="0.4"/>
</g>
<g fill="none" stroke="#c49480" stroke-width="1.5" opacity="0.85" filter="url(#bl)" stroke-linejoin="round">
<path d="M54.7,87.9 L56.2,90.8 L55.5,94.8 L57.4,97.4 L56.5,100.0 L59.7,101.0 L62.0,104.5 L64.3,105.8 L66.1,107.7 L66.1,111.3 L67.4,115.2 L67.4,117.9 L67.1,120.6 L72.3,121.2 L75.3,122.0 L78.2,124.8 L81.1,125.6 L84.6,121.9 L90.3,119.6 L93.1,116.1 L97.7,113.6 L101.6,111.8 L104.3,110.6 L108.9,108.8 L113.8,106.4 L115.7,106.4 L117.9,107.4 L119.3,106.0 L122.3,105.3 L124.8,108.0 L129.9,110.5 L131.8,113.3 L135.5,114.1 L137.9,119.2 L139.6,124.8 L141.6,129.1 L143.0,132.9 L145.8,134.2 L150.6,137.6 L154.3,139.3 L156.4,141.7 L158.4,143.7 L159.5,148.1 L160.4,150.2 L163.6,154.5 L164.0,152.7 L165.6,152.5 L169.2,154.1 L169.8,153.5 L171.3,150.0 L172.1,149.6 L171.1,146.8 L172.3,143.9"/>
<path d="M82.3,87.6 L85.1,89.2 L86.5,91.4 L88.9,94.5 L91.6,96.0 L94.0,97.0 L93.6,99.8 L94.9,102.6 L97.2,103.4"/>
<path d="M48.6,151.5 L51.2,151.9 L54.8,151.1 L55.4,149.8 L59.1,149.0 L61.0,152.5 L60.8,153.2 L62.3,156.0 L63.3,157.9 L61.4,160.1 L60.7,161.4 L57.7,162.1 L56.3,166.3 L56.5,168.4 L54.7,168.9 L54.1,172.8 L54.0,174.2 L57.6,178.5 L59.2,181.4 L61.5,185.0 L64.1,187.9 L65.7,188.7 L67.7,188.9 L69.7,191.3 L71.5,191.1 L73.9,194.8 L74.1,197.3 L76.0,201.3 L76.3,204.0 L74.0,206.0 L70.9,208.1 L68.7,210.7 L66.4,213.3 L64.6,215.6 L60.8,215.0 L58.6,216.4 L56.7,219.0"/>
<path d="M78.6,155.7 L79.8,156.1 L83.6,159.1 L85.5,160.2 L88.1,161.1 L91.1,162.3 L96.2,164.3 L100.1,164.9 L102.0,164.5 L105.1,169.1 L104.9,172.3 L106.7,176.7 L108.0,179.5 L106.1,182.2 L102.1,186.0 L101.4,188.2 L99.2,193.1 L97.5,195.5 L96.4,198.0 L94.0,200.6 L94.3,204.0 L91.2,207.3 L90.5,210.9 L89.1,215.5 L87.5,219.0"/>
<path d="M151.8,87.3 L154.1,90.2 L153.4,94.4 L154.8,97.8 L156.0,98.6 L154.6,102.4 L153.3,106.8 L151.5,108.6 L148.1,113.7 L147.9,115.7 L147.1,118.9 L147.7,124.2 L146.9,125.9 L151.0,128.2 L153.4,131.6 L157.0,132.7 L158.8,136.2"/>
<path d="M221.7,87.7 L223.7,90.3 L224.9,93.0 L225.8,97.8 L226.6,99.1 L228.7,102.9 L227.2,104.6 L228.1,107.7 L230.0,111.6 L234.2,111.0 L237.2,109.9 L241.3,109.7 L243.5,109.2 L246.7,106.9 L248.3,103.3 L253.0,101.7 L253.8,98.8 L256.8,103.5 L258.3,105.4 L261.5,108.9 L263.9,111.1"/>
<path d="M285.2,106.7 L284.3,112.6 L284.0,117.8 L283.9,121.0 L284.9,127.3 L287.7,129.0 L290.5,130.9 L291.2,133.1 L293.9,133.4 L297.0,131.1 L302.4,130.1 L303.8,127.3 L309.0,126.7 L308.2,120.6 L305.3,116.4 L304.5,111.2 L303.6,107.6 L301.6,105.5 L300.5,105.1 L297.7,104.5 L296.6,103.1 L293.6,103.3 L291.1,104.6 L287.5,105.1 L285.0,107.3"/>
<path d="M195.4,144.1 L197.1,145.9 L201.3,146.9 L202.8,150.2 L205.7,152.1 L210.4,151.9 L212.2,154.0 L216.7,156.6 L220.0,158.4 L222.6,155.2 L228.1,154.2 L230.2,152.8 L235.6,150.6 L238.5,148.0 L243.8,146.8 L246.7,144.8 L251.6,142.7 L252.2,146.4 L252.4,148.4 L254.8,151.1 L256.8,154.3 L256.9,158.7 L256.7,163.4 L256.9,166.9 L259.0,172.1 L254.2,172.5 L251.8,174.0 L248.8,176.0 L244.7,178.2 L242.0,180.3 L240.5,183.9 L239.7,188.4 L239.1,189.1 L235.9,190.9 L232.0,193.5 L229.5,195.5 L225.1,195.5 L224.1,198.4 L224.0,201.6 L222.9,203.8 L222.2,208.6 L223.2,210.7 L225.5,212.1 L228.5,215.4 L231.1,219.0"/>
<path d="M289.5,155.6 L291.2,159.9 L291.7,161.2 L293.6,165.4 L297.4,169.3 L299.1,171.7 L301.1,171.8 L304.1,173.5 L305.6,175.5 L307.1,174.1 L309.7,172.9 L311.5,173.1 L313.0,170.9"/>
<path d="M276.9,202.7 L280.6,206.5 L284.0,208.5 L286.2,211.7 L289.3,214.3 L290.3,215.3 L293.1,216.0 L293.5,217.5 L296.6,219.0"/>
<path d="M203.5,182.6 L206.0,183.9 L206.9,184.4 L210.1,187.2 L213.0,188.9 L209.8,189.5 L208.9,191.8 L207.2,193.5 L206.0,193.7 L204.5,192.1 L204.3,190.0 L201.5,188.6 L200.7,187.4 L200.4,186.6 L202.4,185.9 L203.0,183.4 L204.1,182.4"/>
<path d="M87.2,219.9 L87.8,220.7 L90.4,224.8 L89.5,226.8 L92.3,231.2 L92.3,232.9 L94.6,234.3 L97.4,235.3 L100.1,237.9 L101.1,238.0 L104.0,235.2 L108.2,235.3 L111.7,235.1 L109.0,229.5 L109.0,226.6 L107.3,223.9 L106.8,219.0"/>
<path d="M48.3,275.2 L50.9,276.9 L55.9,277.1 L57.3,278.3 L61.6,279.4 L60.4,282.1 L61.6,285.6 L64.5,289.7 L63.8,292.3 L62.0,294.3 L61.1,298.6 L58.2,300.7 L57.2,304.3 L56.1,305.8 L54.8,308.8 L56.1,312.4 L55.1,315.0 L55.0,317.4 L56.9,321.4 L55.3,324.5 L56.9,327.2 L57.8,330.1 L58.6,333.8 L57.9,336.0 L58.3,338.3 L57.3,341.7 L56.3,343.9 L56.6,347.8 L54.8,350.0"/>
<path d="M74.4,350.8 L77.1,346.5 L80.2,341.9 L83.2,339.2 L88.5,334.1 L90.1,331.8 L92.4,331.1 L97.1,327.8 L98.5,327.5 L97.5,330.7 L96.8,332.6 L95.5,335.1 L95.0,338.0 L99.6,336.4 L103.3,337.3 L106.4,334.8 L109.8,333.6 L115.3,335.8 L117.2,336.4 L122.5,337.1 L125.0,338.3 L126.7,342.5 L127.7,345.3 L129.8,347.3 L129.9,350.0"/>
<path d="M111.7,310.3 L114.0,307.3 L116.4,303.8 L119.6,301.5 L123.4,300.1 L126.5,300.5 L129.6,299.3 L132.3,299.1 L136.1,297.2 L136.2,300.2 L136.7,303.3 L137.6,305.4 L138.3,308.4 L133.7,308.7 L130.8,310.6 L130.1,312.9 L126.0,315.2 L123.8,315.3 L121.9,315.9 L119.7,317.5 L116.4,317.3"/>
<path d="M155.7,276.9 L158.8,277.2 L161.7,275.3 L166.2,275.6 L168.9,274.7 L171.4,276.1 L174.2,278.2 L177.5,279.7 L179.1,281.9 L176.2,284.2 L171.1,286.7 L169.3,286.7 L164.6,288.4"/>
<path d="M148.4,302.7 L152.7,300.6 L154.6,301.7 L157.4,299.7 L157.9,299.1 L161.5,303.3 L166.5,304.7 L168.0,306.8 L171.7,310.0 L173.3,313.6 L173.1,316.2 L173.6,319.3 L174.1,323.4 L172.3,323.6 L169.6,324.1 L165.9,325.7 L164.6,326.9"/>
<path d="M226.9,217.9 L228.6,220.3 L233.1,222.7 L233.3,222.9 L236.6,224.3 L238.0,223.6 L241.6,221.6 L241.9,219.5 L244.6,219.0"/>
<path d="M199.1,248.5 L203.0,249.4 L207.7,248.9 L209.7,250.4 L214.4,252.4 L214.8,256.0 L216.3,260.4 L218.8,264.2 L220.2,270.1 L218.3,273.1 L217.7,274.1 L216.4,277.1 L214.5,279.8 L210.9,281.0 L209.8,282.1 L205.8,283.1 L205.0,282.6 L201.6,279.7 L200.7,277.6 L200.8,275.6 L199.1,271.9 L198.2,269.6 L198.9,264.5 L198.8,260.3 L200.1,257.6 L200.1,255.3 L199.8,251.5 L200.7,249.9 L200.3,247.9"/>
<path d="M277.3,218.7 L279.6,220.8 L282.6,224.3 L285.1,226.6 L288.9,229.4 L291.7,233.6 L292.6,237.4 L293.5,239.7 L297.3,244.1 L299.5,243.2 L303.0,243.1 L306.0,243.4 L309.1,242.6 L309.8,243.9 L310.7,246.1 L311.9,248.6 L313.0,249.8"/>
<path d="M266.7,266.1 L270.3,266.5 L273.7,266.2 L276.3,264.2 L280.9,264.4 L281.8,266.8 L283.2,270.7 L285.5,274.0 L286.5,277.7 L288.7,277.1 L293.3,279.7 L296.3,279.2 L297.5,281.2 L301.5,275.8 L304.4,273.0 L304.7,269.0 L307.8,264.3 L307.2,263.8 L303.4,260.3 L301.9,258.4 L299.6,255.2 L296.9,255.1 L293.6,254.9 L291.4,255.2 L288.0,254.5 L283.9,251.2 L282.1,250.2 L280.0,247.6 L277.3,246.0"/>
<path d="M259.3,289.8 L259.8,288.8 L263.2,289.9 L267.5,287.8 L269.0,287.8 L271.7,293.2 L271.9,295.1 L275.1,301.1 L275.9,303.7 L274.5,307.3 L272.5,309.0 L271.1,312.8 L269.2,315.6 L266.8,317.4 L265.1,316.6 L264.9,319.3 L262.9,320.0 L263.7,323.8 L264.0,325.9 L265.4,331.6 L266.6,333.5 L268.6,337.6 L273.5,340.3 L278.5,341.7 L281.6,344.6 L283.6,345.3 L285.4,346.1 L287.9,349.1 L288.9,350.0"/>
<path d="M181.7,319.1 L183.2,321.0 L187.2,323.2 L188.8,323.8 L192.4,326.3 L194.8,327.2 L198.1,329.3 L202.2,330.2 L202.9,331.7 L208.2,330.4 L212.1,328.5 L215.3,326.8 L219.9,325.8 L222.4,329.8 L224.8,331.0 L227.5,333.8 L230.0,335.8 L231.5,335.8 L234.3,339.7 L237.3,342.1 L238.5,343.0 L241.0,345.9 L242.9,347.3 L244.0,349.2 L244.6,350.0"/>
<path d="M290.1,292.1 L292.8,293.9 L293.5,295.6 L297.2,299.2 L300.2,299.4 L304.1,299.9 L306.3,301.6 L309.0,303.1 L313.0,303.8"/>
<path d="M284.8,310.3 L287.5,313.1 L290.1,314.5 L293.0,315.6 L296.1,320.1 L299.0,320.1 L302.5,320.5 L305.4,321.0 L308.2,323.0"/>
</g>
<defs><radialGradient id="gR"><stop offset="0" stop-color="#c02a18"/><stop offset="0.3" stop-color="#e84426"/><stop offset="0.58" stop-color="#f05a38"/><stop offset="0.7" stop-color="#5a3cc0"/><stop offset="0.78" stop-color="#3636d2"/><stop offset="0.92" stop-color="#3a3ad0"/><stop offset="1" stop-color="#5a5cb8" stop-opacity="0.4"/></radialGradient><radialGradient id="gP"><stop offset="0" stop-color="#c83c30"/><stop offset="0.3" stop-color="#d85a48"/><stop offset="0.6" stop-color="#dc6c5a"/><stop offset="0.7" stop-color="#6a48b8"/><stop offset="0.78" stop-color="#3838d0"/><stop offset="0.92" stop-color="#3a3ad0"/><stop offset="1" stop-color="#5a5cb8" stop-opacity="0.4"/></radialGradient><radialGradient id="gG"><stop offset="0" stop-color="#083a08"/><stop offset="0.3" stop-color="#107010"/><stop offset="0.6" stop-color="#24b41c"/><stop offset="0.85" stop-color="#3cc426"/><stop offset="1" stop-color="#60c030" stop-opacity="0.6"/></radialGradient><radialGradient id="gGy"><stop offset="0.55" stop-color="#b8d030"/><stop offset="0.8" stop-color="#bccc38"/><stop offset="1" stop-color="#a8b850" stop-opacity="0.25"/></radialGradient><radialGradient id="gY"><stop offset="0" stop-color="#6a6a20"/><stop offset="0.45" stop-color="#8a8a28"/><stop offset="0.65" stop-color="#c8d030"/><stop offset="0.8" stop-color="#7070b0"/><stop offset="0.92" stop-color="#4a4ac8"/><stop offset="1" stop-color="#5a5cb8" stop-opacity="0.3"/></radialGradient><radialGradient id="gB"><stop offset="0" stop-color="#2828b8"/><stop offset="0.7" stop-color="#3838cc"/><stop offset="1" stop-color="#5050c0" stop-opacity="0.3"/></radialGradient></defs>
<g filter="url(#bl)">
<circle cx="51.0" cy="123.0" r="8.42" fill="url(#gR)"/>
<circle cx="67.0" cy="137.0" r="7.36" fill="url(#gR)"/>
<circle cx="79.0" cy="133.0" r="7.890000000000001" fill="url(#gR)"/>
<circle cx="128.0" cy="144.0" r="7.890000000000001" fill="url(#gR)"/>
<circle cx="99.0" cy="154.0" r="7.36" fill="url(#gR)"/>
<circle cx="145.0" cy="157.0" r="7.36" fill="url(#gR)"/>
<circle cx="129.0" cy="185.0" r="10.540000000000001" fill="url(#gR)"/>
<circle cx="105.0" cy="211.0" r="9.48" fill="url(#gR)"/>
<circle cx="77.0" cy="212.0" r="9.48" fill="url(#gP)"/>
<circle cx="169.0" cy="115.0" r="10.540000000000001" fill="url(#gR)"/>
<circle cx="178.0" cy="162.0" r="7.36" fill="url(#gR)"/>
<circle cx="176.0" cy="216.0" r="7.36" fill="url(#gR)"/>
<circle cx="193.0" cy="118.0" r="8.42" fill="url(#gR)"/>
<circle cx="204.0" cy="131.0" r="8.42" fill="url(#gR)"/>
<circle cx="222.0" cy="134.0" r="9.48" fill="url(#gR)"/>
<circle cx="243.0" cy="131.0" r="8.42" fill="url(#gR)"/>
<circle cx="266.0" cy="127.0" r="9.48" fill="url(#gP)"/>
<circle cx="283.0" cy="96.0" r="10.540000000000001" fill="url(#gP)"/>
<circle cx="300.0" cy="146.0" r="9.48" fill="url(#gR)"/>
<circle cx="312.0" cy="134.0" r="7.36" fill="url(#gR)"/>
<circle cx="312.0" cy="152.0" r="7.36" fill="url(#gR)"/>
<circle cx="278.0" cy="184.0" r="7.36" fill="url(#gR)"/>
<circle cx="307.0" cy="206.0" r="8.42" fill="url(#gR)"/>
<circle cx="258.0" cy="208.0" r="9.48" fill="url(#gR)"/>
<circle cx="227.0" cy="179.0" r="8.42" fill="url(#gR)"/>
<circle cx="182.0" cy="162.0" r="6.300000000000001" fill="url(#gR)"/>
<circle cx="190.0" cy="175.0" r="8.42" fill="url(#gR)"/>
<circle cx="196.0" cy="206.0" r="6.300000000000001" fill="url(#gR)"/>
<circle cx="210.0" cy="216.0" r="9.48" fill="url(#gR)"/>
<circle cx="134.0" cy="229.0" r="10.540000000000001" fill="url(#gR)"/>
<circle cx="82.0" cy="233.0" r="7.36" fill="url(#gR)"/>
<circle cx="74.0" cy="241.0" r="8.42" fill="url(#gR)"/>
<circle cx="104.0" cy="255.0" r="8.42" fill="url(#gR)"/>
<circle cx="165.0" cy="249.0" r="8.42" fill="url(#gR)"/>
<circle cx="93.0" cy="259.0" r="6.83" fill="url(#gR)"/>
<circle cx="72.0" cy="274.0" r="9.48" fill="url(#gR)"/>
<circle cx="153.0" cy="266.0" r="7.36" fill="url(#gR)"/>
<circle cx="101.0" cy="288.0" r="8.42" fill="url(#gR)"/>
<circle cx="126.0" cy="291.0" r="8.42" fill="url(#gR)"/>
<circle cx="79.0" cy="304.0" r="10.540000000000001" fill="url(#gP)"/>
<circle cx="106.0" cy="319.0" r="6.83" fill="url(#gR)"/>
<circle cx="163.0" cy="345.0" r="7.36" fill="url(#gR)"/>
<circle cx="50.0" cy="344.0" r="6.300000000000001" fill="url(#gR)"/>
<circle cx="182.0" cy="223.0" r="6.300000000000001" fill="url(#gR)"/>
<circle cx="240.0" cy="242.0" r="8.95" fill="url(#gR)"/>
<circle cx="187.0" cy="257.0" r="8.42" fill="url(#gR)"/>
<circle cx="237.0" cy="259.0" r="9.48" fill="url(#gP)"/>
<circle cx="199.0" cy="282.0" r="8.42" fill="url(#gR)"/>
<circle cx="234.0" cy="297.0" r="9.48" fill="url(#gR)"/>
<circle cx="251.0" cy="305.0" r="9.48" fill="url(#gR)"/>
<circle cx="247.0" cy="312.0" r="5.7700000000000005" fill="url(#gR)"/>
<circle cx="188.0" cy="307.0" r="9.48" fill="url(#gR)"/>
<circle cx="253.0" cy="328.0" r="9.48" fill="url(#gP)"/>
<circle cx="307.0" cy="328.0" r="9.48" fill="url(#gR)"/>
<circle cx="301.0" cy="347.0" r="7.36" fill="url(#gR)"/>
<circle cx="51.0" cy="131.6" r="5.9" fill="url(#gGy)"/>
<circle cx="51.0" cy="130.7" r="4.2" fill="url(#gG)"/>
<circle cx="87.0" cy="133.6" r="5.9" fill="url(#gGy)"/>
<circle cx="87.0" cy="132.7" r="4.2" fill="url(#gG)"/>
<circle cx="92.0" cy="133.6" r="5.9" fill="url(#gGy)"/>
<circle cx="92.0" cy="132.7" r="4.2" fill="url(#gG)"/>
<circle cx="109.0" cy="117.6" r="7.0" fill="url(#gGy)"/>
<circle cx="109.0" cy="116.7" r="5.1" fill="url(#gG)"/>
<circle cx="127.0" cy="120.6" r="7.0" fill="url(#gGy)"/>
<circle cx="127.0" cy="119.7" r="5.1" fill="url(#gG)"/>
<circle cx="102.0" cy="128.0" r="2.6" fill="url(#gB)"/>
<circle cx="99.0" cy="155.6" r="3.8" fill="url(#gGy)"/>
<circle cx="99.0" cy="154.7" r="2.5" fill="url(#gG)"/>
<circle cx="89.0" cy="164.0" r="3.1" fill="url(#gB)"/>
<circle cx="88.0" cy="175.0" r="3.1" fill="url(#gB)"/>
<circle cx="117.0" cy="161.0" r="3.1" fill="url(#gB)"/>
<circle cx="50.0" cy="156.0" r="2.6" fill="url(#gB)"/>
<circle cx="147.0" cy="185.0" r="3.1" fill="url(#gB)"/>
<circle cx="160.0" cy="161.0" r="2.6" fill="url(#gB)"/>
<circle cx="54.0" cy="206.0" r="3.1" fill="url(#gB)"/>
<circle cx="124.0" cy="156.6" r="4.8" fill="url(#gGy)"/>
<circle cx="124.0" cy="155.7" r="3.4" fill="url(#gG)"/>
<circle cx="135.0" cy="156.6" r="6.4" fill="url(#gGy)"/>
<circle cx="135.0" cy="155.7" r="4.7" fill="url(#gG)"/>
<circle cx="143.0" cy="149.6" r="5.9" fill="url(#gGy)"/>
<circle cx="143.0" cy="148.7" r="4.2" fill="url(#gG)"/>
<circle cx="146.0" cy="158.6" r="4.3" fill="url(#gGy)"/>
<circle cx="146.0" cy="157.7" r="3.0" fill="url(#gG)"/>
<circle cx="157.0" cy="170.6" r="6.4" fill="url(#gGy)"/>
<circle cx="157.0" cy="169.7" r="4.7" fill="url(#gG)"/>
<circle cx="165.0" cy="193.0" r="7.36" fill="url(#gY)"/>
<circle cx="160.0" cy="107.6" r="7.0" fill="url(#gGy)"/>
<circle cx="160.0" cy="106.7" r="5.1" fill="url(#gG)"/>
<circle cx="172.0" cy="129.6" r="7.0" fill="url(#gGy)"/>
<circle cx="172.0" cy="128.7" r="5.1" fill="url(#gG)"/>
<circle cx="165.0" cy="94.6" r="4.8" fill="url(#gGy)"/>
<circle cx="165.0" cy="93.7" r="3.4" fill="url(#gG)"/>
<circle cx="174.0" cy="147.6" r="6.4" fill="url(#gGy)"/>
<circle cx="174.0" cy="146.7" r="4.7" fill="url(#gG)"/>
<circle cx="176.0" cy="171.6" r="5.9" fill="url(#gGy)"/>
<circle cx="176.0" cy="170.7" r="4.2" fill="url(#gG)"/>
<circle cx="203.0" cy="99.6" r="5.9" fill="url(#gGy)"/>
<circle cx="203.0" cy="98.7" r="4.2" fill="url(#gG)"/>
<circle cx="218.0" cy="102.0" r="3.1" fill="url(#gB)"/>
<circle cx="193.0" cy="107.6" r="5.9" fill="url(#gGy)"/>
<circle cx="193.0" cy="106.7" r="4.2" fill="url(#gG)"/>
<circle cx="194.0" cy="126.6" r="4.8" fill="url(#gGy)"/>
<circle cx="194.0" cy="125.7" r="3.4" fill="url(#gG)"/>
<circle cx="206.0" cy="118.6" r="4.8" fill="url(#gGy)"/>
<circle cx="206.0" cy="117.7" r="3.4" fill="url(#gG)"/>
<circle cx="229.0" cy="120.6" r="4.8" fill="url(#gGy)"/>
<circle cx="229.0" cy="119.7" r="3.4" fill="url(#gG)"/>
<circle cx="238.0" cy="120.6" r="4.8" fill="url(#gGy)"/>
<circle cx="238.0" cy="119.7" r="3.4" fill="url(#gG)"/>
<circle cx="230.0" cy="127.6" r="4.8" fill="url(#gGy)"/>
<circle cx="230.0" cy="126.7" r="3.4" fill="url(#gG)"/>
<circle cx="243.0" cy="131.6" r="5.4" fill="url(#gGy)"/>
<circle cx="243.0" cy="130.7" r="3.8" fill="url(#gG)"/>
<circle cx="235.0" cy="136.6" r="4.8" fill="url(#gGy)"/>
<circle cx="235.0" cy="135.7" r="3.4" fill="url(#gG)"/>
<circle cx="270.0" cy="90.6" r="7.0" fill="url(#gGy)"/>
<circle cx="270.0" cy="89.7" r="5.1" fill="url(#gG)"/>
<circle cx="277.0" cy="141.6" r="5.9" fill="url(#gGy)"/>
<circle cx="277.0" cy="140.7" r="4.2" fill="url(#gG)"/>
<circle cx="272.0" cy="155.0" r="8.42" fill="url(#gY)"/>
<circle cx="280.0" cy="168.0" r="3.1" fill="url(#gB)"/>
<circle cx="267.0" cy="177.0" r="3.1" fill="url(#gB)"/>
<circle cx="290.0" cy="181.6" r="5.9" fill="url(#gGy)"/>
<circle cx="290.0" cy="180.7" r="4.2" fill="url(#gG)"/>
<circle cx="286.0" cy="197.6" r="7.0" fill="url(#gGy)"/>
<circle cx="286.0" cy="196.7" r="5.1" fill="url(#gG)"/>
<circle cx="248.0" cy="205.6" r="5.9" fill="url(#gGy)"/>
<circle cx="248.0" cy="204.7" r="4.2" fill="url(#gG)"/>
<circle cx="230.0" cy="188.6" r="5.9" fill="url(#gGy)"/>
<circle cx="230.0" cy="187.7" r="4.2" fill="url(#gG)"/>
<circle cx="191.0" cy="162.6" r="6.4" fill="url(#gGy)"/>
<circle cx="191.0" cy="161.7" r="4.7" fill="url(#gG)"/>
<circle cx="187.0" cy="174.6" r="4.8" fill="url(#gGy)"/>
<circle cx="187.0" cy="173.7" r="3.4" fill="url(#gG)"/>
<circle cx="190.0" cy="195.0" r="4.9" fill="none" stroke="#bccc3a" stroke-width="2"/>
<circle cx="189.0" cy="215.6" r="5.9" fill="url(#gGy)"/>
<circle cx="189.0" cy="214.7" r="4.2" fill="url(#gG)"/>
<circle cx="206.0" cy="209.6" r="5.9" fill="url(#gGy)"/>
<circle cx="206.0" cy="208.7" r="4.2" fill="url(#gG)"/>
<circle cx="133.0" cy="232.6" r="4.8" fill="url(#gGy)"/>
<circle cx="133.0" cy="231.7" r="3.4" fill="url(#gG)"/>
<circle cx="81.0" cy="246.6" r="5.4" fill="url(#gGy)"/>
<circle cx="81.0" cy="245.7" r="3.8" fill="url(#gG)"/>
<circle cx="92.0" cy="248.6" r="5.9" fill="url(#gGy)"/>
<circle cx="92.0" cy="247.7" r="4.2" fill="url(#gG)"/>
<circle cx="143.0" cy="242.6" r="8.0" fill="url(#gGy)"/>
<circle cx="143.0" cy="241.7" r="5.9" fill="url(#gG)"/>
<circle cx="159.0" cy="255.6" r="5.9" fill="url(#gGy)"/>
<circle cx="159.0" cy="254.7" r="4.2" fill="url(#gG)"/>
<circle cx="175.0" cy="250.6" r="5.9" fill="url(#gGy)"/>
<circle cx="175.0" cy="249.7" r="4.2" fill="url(#gG)"/>
<circle cx="115.0" cy="259.6" r="7.0" fill="url(#gGy)"/>
<circle cx="115.0" cy="258.7" r="5.1" fill="url(#gG)"/>
<circle cx="127.0" cy="258.6" r="5.9" fill="url(#gGy)"/>
<circle cx="127.0" cy="257.7" r="4.2" fill="url(#gG)"/>
<circle cx="135.0" cy="255.0" r="3.1" fill="url(#gB)"/>
<circle cx="81.0" cy="262.6" r="7.0" fill="url(#gGy)"/>
<circle cx="81.0" cy="261.7" r="5.1" fill="url(#gG)"/>
<circle cx="62.0" cy="265.6" r="6.4" fill="url(#gGy)"/>
<circle cx="62.0" cy="264.7" r="4.7" fill="url(#gG)"/>
<circle cx="100.0" cy="269.6" r="5.9" fill="url(#gGy)"/>
<circle cx="100.0" cy="268.7" r="4.2" fill="url(#gG)"/>
<circle cx="110.0" cy="276.6" r="6.4" fill="url(#gGy)"/>
<circle cx="110.0" cy="275.7" r="4.7" fill="url(#gG)"/>
<circle cx="117.0" cy="273.6" r="5.9" fill="url(#gGy)"/>
<circle cx="117.0" cy="272.7" r="4.2" fill="url(#gG)"/>
<circle cx="80.0" cy="282.6" r="5.4" fill="url(#gGy)"/>
<circle cx="80.0" cy="281.7" r="3.8" fill="url(#gG)"/>
<circle cx="153.0" cy="268.6" r="3.8" fill="url(#gGy)"/>
<circle cx="153.0" cy="267.7" r="2.5" fill="url(#gG)"/>
<circle cx="93.0" cy="287.6" r="5.9" fill="url(#gGy)"/>
<circle cx="93.0" cy="286.7" r="4.2" fill="url(#gG)"/>
<circle cx="140.0" cy="292.6" r="5.9" fill="url(#gGy)"/>
<circle cx="140.0" cy="291.7" r="4.2" fill="url(#gG)"/>
<circle cx="147.0" cy="290.6" r="5.9" fill="url(#gGy)"/>
<circle cx="147.0" cy="289.7" r="4.2" fill="url(#gG)"/>
<circle cx="145.0" cy="284.0" r="2.6" fill="url(#gB)"/>
<circle cx="155.0" cy="285.0" r="2.6" fill="url(#gB)"/>
<circle cx="93.0" cy="301.6" r="6.4" fill="url(#gGy)"/>
<circle cx="93.0" cy="300.7" r="4.7" fill="url(#gG)"/>
<circle cx="67.0" cy="328.0" r="8.42" fill="url(#gY)"/>
<circle cx="133.0" cy="313.6" r="5.9" fill="url(#gGy)"/>
<circle cx="133.0" cy="312.7" r="4.2" fill="url(#gG)"/>
<circle cx="141.0" cy="322.6" r="5.9" fill="url(#gGy)"/>
<circle cx="141.0" cy="321.7" r="4.2" fill="url(#gG)"/>
<circle cx="136.0" cy="324.6" r="5.4" fill="url(#gGy)"/>
<circle cx="136.0" cy="323.7" r="3.8" fill="url(#gG)"/>
<circle cx="150.0" cy="328.6" r="5.9" fill="url(#gGy)"/>
<circle cx="150.0" cy="327.7" r="4.2" fill="url(#gG)"/>
<circle cx="154.0" cy="342.6" r="5.9" fill="url(#gGy)"/>
<circle cx="154.0" cy="341.7" r="4.2" fill="url(#gG)"/>
<circle cx="178.0" cy="304.6" r="5.9" fill="url(#gGy)"/>
<circle cx="178.0" cy="303.7" r="4.2" fill="url(#gG)"/>
<circle cx="50.0" cy="250.6" r="3.8" fill="url(#gGy)"/>
<circle cx="50.0" cy="249.7" r="2.5" fill="url(#gG)"/>
<circle cx="194.0" cy="225.6" r="7.0" fill="url(#gGy)"/>
<circle cx="194.0" cy="224.7" r="5.1" fill="url(#gG)"/>
<circle cx="200.0" cy="226.6" r="5.9" fill="url(#gGy)"/>
<circle cx="200.0" cy="225.7" r="4.2" fill="url(#gG)"/>
<circle cx="203.0" cy="239.6" r="7.0" fill="url(#gGy)"/>
<circle cx="203.0" cy="238.7" r="5.1" fill="url(#gG)"/>
<circle cx="219.0" cy="242.6" r="7.0" fill="url(#gGy)"/>
<circle cx="219.0" cy="241.7" r="5.1" fill="url(#gG)"/>
<circle cx="238.0" cy="233.6" r="6.4" fill="url(#gGy)"/>
<circle cx="238.0" cy="232.7" r="4.7" fill="url(#gG)"/>
<circle cx="265.0" cy="237.6" r="9.1" fill="url(#gGy)"/>
<circle cx="265.0" cy="236.7" r="6.8" fill="url(#gG)"/>
<circle cx="270.0" cy="231.6" r="4.8" fill="url(#gGy)"/>
<circle cx="270.0" cy="230.7" r="3.4" fill="url(#gG)"/>
<circle cx="280.0" cy="221.6" r="4.8" fill="url(#gGy)"/>
<circle cx="280.0" cy="220.7" r="3.4" fill="url(#gG)"/>
<circle cx="274.0" cy="227.0" r="2.6" fill="url(#gB)"/>
<circle cx="280.0" cy="233.0" r="2.6" fill="url(#gB)"/>
<circle cx="274.0" cy="234.0" r="2.6" fill="url(#gB)"/>
<circle cx="276.0" cy="259.0" r="2.6" fill="url(#gB)"/>
<circle cx="276.0" cy="265.0" r="2.6" fill="url(#gB)"/>
<circle cx="256.0" cy="265.0" r="3.1" fill="url(#gB)"/>
<circle cx="303.0" cy="278.0" r="3.1" fill="url(#gB)"/>
<circle cx="220.0" cy="284.0" r="3.1" fill="url(#gB)"/>
<circle cx="215.0" cy="297.0" r="3.1" fill="url(#gB)"/>
<circle cx="199.0" cy="344.0" r="3.1" fill="url(#gB)"/>
<circle cx="223.0" cy="257.6" r="4.8" fill="url(#gGy)"/>
<circle cx="223.0" cy="256.7" r="3.4" fill="url(#gG)"/>
<circle cx="198.0" cy="287.6" r="5.9" fill="url(#gGy)"/>
<circle cx="198.0" cy="286.7" r="4.2" fill="url(#gG)"/>
<circle cx="210.0" cy="293.6" r="5.4" fill="url(#gGy)"/>
<circle cx="210.0" cy="292.7" r="3.8" fill="url(#gG)"/>
<circle cx="221.0" cy="291.6" r="6.4" fill="url(#gGy)"/>
<circle cx="221.0" cy="290.7" r="4.7" fill="url(#gG)"/>
<circle cx="221.0" cy="297.6" r="5.9" fill="url(#gGy)"/>
<circle cx="221.0" cy="296.7" r="4.2" fill="url(#gG)"/>
<circle cx="230.0" cy="287.6" r="5.9" fill="url(#gGy)"/>
<circle cx="230.0" cy="286.7" r="4.2" fill="url(#gG)"/>
<circle cx="238.0" cy="295.6" r="5.4" fill="url(#gGy)"/>
<circle cx="238.0" cy="294.7" r="3.8" fill="url(#gG)"/>
<circle cx="248.0" cy="289.6" r="6.4" fill="url(#gGy)"/>
<circle cx="248.0" cy="288.7" r="4.7" fill="url(#gG)"/>
<circle cx="251.0" cy="305.6" r="5.9" fill="url(#gGy)"/>
<circle cx="251.0" cy="304.7" r="4.2" fill="url(#gG)"/>
<circle cx="238.0" cy="307.6" r="5.9" fill="url(#gGy)"/>
<circle cx="238.0" cy="306.7" r="4.2" fill="url(#gG)"/>
<circle cx="196.0" cy="302.6" r="4.8" fill="url(#gGy)"/>
<circle cx="196.0" cy="301.7" r="3.4" fill="url(#gG)"/>
<circle cx="197.0" cy="311.6" r="4.8" fill="url(#gGy)"/>
<circle cx="197.0" cy="310.7" r="3.4" fill="url(#gG)"/>
<circle cx="208.0" cy="307.6" r="6.4" fill="url(#gGy)"/>
<circle cx="208.0" cy="306.7" r="4.7" fill="url(#gG)"/>
<circle cx="210.0" cy="316.6" r="5.4" fill="url(#gGy)"/>
<circle cx="210.0" cy="315.7" r="3.8" fill="url(#gG)"/>
<circle cx="224.0" cy="311.6" r="6.4" fill="url(#gGy)"/>
<circle cx="224.0" cy="310.7" r="4.7" fill="url(#gG)"/>
<circle cx="278.0" cy="312.6" r="7.0" fill="url(#gGy)"/>
<circle cx="278.0" cy="311.7" r="5.1" fill="url(#gG)"/>
<circle cx="284.0" cy="335.6" r="7.0" fill="url(#gGy)"/>
<circle cx="284.0" cy="334.7" r="5.1" fill="url(#gG)"/>
<circle cx="312.0" cy="280.6" r="5.9" fill="url(#gGy)"/>
<circle cx="312.0" cy="279.7" r="4.2" fill="url(#gG)"/>
</g>
<rect x="49" y="88" width="264" height="261" filter="url(#nz)" opacity="0.3"/>
</g>
<text x="174.5" y="29.8" text-anchor="middle" font-size="23" fill="#1a1458" stroke="#1a1458" stroke-width="0.7" textLength="179" lengthAdjust="spacingAndGlyphs">Fluorescent Image</text>
<text x="174.7" y="55.4" text-anchor="middle" font-size="23" fill="#1a1458" stroke="#1a1458" stroke-width="0.7" textLength="106.5" lengthAdjust="spacingAndGlyphs">Processing</text>
<text x="507.4" y="47.7" font-size="23.7" fill="#1a1458" stroke="#1a1458" stroke-width="0.5" textLength="27.4" lengthAdjust="spacingAndGlyphs">KT</text>
<text x="535.5" y="51.6" font-size="15.3" fill="#1a1458" stroke="#1a1458" stroke-width="0.3" textLength="16.8" lengthAdjust="spacingAndGlyphs">50</text>
<text x="125.5" y="413.2" font-size="23" fill="#1a1458" stroke="#1a1458" stroke-width="0.7" textLength="111" lengthAdjust="spacingAndGlyphs">% Cytolysis</text>
<text x="502.6" y="413.7" font-size="24" fill="#1a1458" stroke="#1a1458" stroke-width="0.6" textLength="20.6" lengthAdjust="spacingAndGlyphs">IC</text>
<text x="524.5" y="417.8" font-size="15.3" fill="#1a1458" stroke="#1a1458" stroke-width="0.35" textLength="16.6" lengthAdjust="spacingAndGlyphs">50</text>
<g stroke="#22227a" stroke-width="1.3" fill="none">
<path d="M400.4,92.5 V337.4 H623.9"/>
<path d="M397,337.4 H400.4"/>
<path d="M397,288.5 H400.4"/>
<path d="M397,239.7 H400.4"/>
<path d="M397,190.8 H400.4"/>
<path d="M397,142.0 H400.4"/>
<path d="M397,93.1 H400.4"/>
<path d="M400.4,337.4 V341.0"/>
<path d="M445.1,337.4 V341.0"/>
<path d="M489.8,337.4 V341.0"/>
<path d="M534.5,337.4 V341.0"/>
<path d="M579.2,337.4 V341.0"/>
<path d="M623.9,337.4 V341.0"/>
</g>
<text x="392.3" y="340.2" text-anchor="end" font-size="8.3" fill="#22227a" letter-spacing="0.15">0</text>
<text x="392.3" y="291.4" text-anchor="end" font-size="8.3" fill="#22227a" letter-spacing="0.15">20</text>
<text x="392.3" y="242.5" text-anchor="end" font-size="8.3" fill="#22227a" letter-spacing="0.15">40</text>
<text x="392.3" y="193.7" text-anchor="end" font-size="8.3" fill="#22227a" letter-spacing="0.15">60</text>
<text x="392.3" y="144.8" text-anchor="end" font-size="8.3" fill="#22227a" letter-spacing="0.15">80</text>
<text x="392.3" y="95.9" text-anchor="end" font-size="8.3" fill="#22227a" letter-spacing="0.15">100</text>
<rect x="413.9" y="220.0" width="17.8" height="117.4" fill="#e37a2a"/>
<path d="M422.8,215.3 V224.4 M417.8,215.3 H427.8 M417.8,224.4 H427.8" stroke="#22227a" stroke-width="1.3" fill="none"/>
<text x="422.8" y="351.1" text-anchor="middle" font-size="8.3" fill="#22227a" letter-spacing="0.2">20:1</text>
<rect x="458.6" y="202.1" width="17.8" height="135.3" fill="#e37a2a"/>
<path d="M467.4,188.2 V215.5 M462.4,188.2 H472.4 M462.4,215.5 H472.4" stroke="#22227a" stroke-width="1.3" fill="none"/>
<text x="467.4" y="351.1" text-anchor="middle" font-size="8.3" fill="#22227a" letter-spacing="0.2">10:1</text>
<rect x="503.2" y="170.2" width="17.8" height="167.2" fill="#e37a2a"/>
<path d="M512.1,158.5 V181.6 M507.1,158.5 H517.1 M507.1,181.6 H517.1" stroke="#22227a" stroke-width="1.3" fill="none"/>
<text x="512.1" y="351.1" text-anchor="middle" font-size="8.3" fill="#22227a" letter-spacing="0.2">5:1</text>
<rect x="548.0" y="141.1" width="17.8" height="196.3" fill="#e37a2a"/>
<path d="M556.9,134.3 V148.3 M551.9,134.3 H561.9 M551.9,148.3 H561.9" stroke="#22227a" stroke-width="1.3" fill="none"/>
<text x="556.9" y="351.1" text-anchor="middle" font-size="8.3" fill="#22227a" letter-spacing="0.2">2.5:1</text>
<rect x="592.6" y="115.0" width="17.8" height="222.4" fill="#e37a2a"/>
<path d="M601.5,107.5 V122.4 M596.5,107.5 H606.5 M596.5,122.4 H606.5" stroke="#22227a" stroke-width="1.3" fill="none"/>
<text x="601.5" y="351.1" text-anchor="middle" font-size="8.3" fill="#22227a" letter-spacing="0.2">1:1</text>
<text x="483.5" y="374.9" text-anchor="middle" font-size="9.8" fill="#22227a" textLength="38.6" lengthAdjust="spacingAndGlyphs">E:T Ratio</text>
<text transform="translate(339,200) rotate(-90)" font-size="9.2" fill="#22227a" textLength="52" lengthAdjust="spacingAndGlyphs">KT<tspan font-size="6" dy="1.5">50</tspan><tspan dy="-1.5"> (Hours)</tspan></text>
<g stroke="#22227a" stroke-width="1.3" fill="none">
<path d="M82.4,437.2 V641.5 H297.5"/>
<path d="M79.2,641.5 H82.4"/>
<path d="M79.2,602.7 H82.4"/>
<path d="M79.2,563.8 H82.4"/>
<path d="M79.2,525.0 H82.4"/>
<path d="M79.2,486.1 H82.4"/>
<path d="M79.2,447.3 H82.4"/>
<path d="M82.4,641.5 V644.5"/>
<path d="M136.2,641.5 V644.5"/>
<path d="M189.9,641.5 V644.5"/>
<path d="M243.7,641.5 V644.5"/>
<path d="M297.5,641.5 V644.5"/>
</g>
<text x="74.5" y="644.4" text-anchor="end" font-size="8.3" fill="#22227a" letter-spacing="0.15">0</text>
<text x="74.5" y="605.5" text-anchor="end" font-size="8.3" fill="#22227a" letter-spacing="0.15">20</text>
<text x="74.5" y="566.7" text-anchor="end" font-size="8.3" fill="#22227a" letter-spacing="0.15">40</text>
<text x="74.5" y="527.8" text-anchor="end" font-size="8.3" fill="#22227a" letter-spacing="0.15">60</text>
<text x="74.5" y="489.0" text-anchor="end" font-size="8.3" fill="#22227a" letter-spacing="0.15">80</text>
<text x="74.5" y="450.2" text-anchor="end" font-size="8.3" fill="#22227a" letter-spacing="0.15">100</text>
<text x="82.4" y="655.3" text-anchor="middle" font-size="7.5" fill="#000" stroke="#000" stroke-width="0.15">0</text>
<text x="136.2" y="655.3" text-anchor="middle" font-size="7.5" fill="#000" stroke="#000" stroke-width="0.15">20</text>
<text x="189.9" y="655.3" text-anchor="middle" font-size="7.5" fill="#000" stroke="#000" stroke-width="0.15">40</text>
<text x="243.7" y="655.3" text-anchor="middle" font-size="7.5" fill="#000" stroke="#000" stroke-width="0.15">60</text>
<text x="297.5" y="655.3" text-anchor="middle" font-size="7.5" fill="#000" stroke="#000" stroke-width="0.15">80</text>
<text x="162.6" y="695.1" text-anchor="middle" font-size="10" fill="#22227a" textLength="53" lengthAdjust="spacingAndGlyphs">Time (Hours)</text>
<text transform="translate(22.1,533.2) rotate(-90)" font-size="9" fill="#22227a" stroke="#22227a" stroke-width="0.2" textLength="50.6" lengthAdjust="spacingAndGlyphs">% Cytolysis</text>
<path d="M142.1,641.2 L142.6,639.9 L143.1,638.6 L143.7,637.3 L144.2,635.7 L144.7,634.1 L145.6,634.0 L146.5,632.0 L147.4,631.8 L148.4,630.5 L149.3,629.0 L150.2,628.8 L151.2,626.9 L152.2,626.5 L153.2,624.8 L154.2,623.8 L155.4,623.9 L156.5,624.1 L157.7,622.3 L158.9,622.0 L160.0,622.2 L161.2,622.3 L162.4,622.6 L163.5,623.3 L164.7,625.4 L165.7,623.0 L166.7,623.8 L167.7,622.1 L168.7,621.2 L169.7,620.5 L170.7,620.1 L171.7,620.4 L172.9,619.6 L174.1,620.6 L175.2,621.1 L176.4,620.9 L177.6,621.6 L178.8,621.3 L179.9,621.9 L181.1,622.8 L182.2,624.2 L183.4,624.4 L184.2,625.2 L185.1,626.7 L185.9,627.4 L186.7,628.1 L187.5,630.0 L188.4,630.9 L189.2,631.0 L190.6,631.8 L191.9,631.9 L193.3,632.7 L194.7,632.6 L196.0,632.0 L197.4,633.5 L198.6,632.5 L199.8,633.7 L200.9,635.0 L202.1,634.5 L203.3,635.7 L204.5,635.6 L205.8,636.6 L207.0,636.6 L208.3,636.1 L209.5,636.6 L210.8,635.4 L212.1,636.0 L213.3,635.7 L214.6,635.5 L215.9,635.1 L217.1,635.7 L218.4,635.8 L219.6,634.8 L220.9,635.0 L222.1,634.1 L223.3,635.5 L224.5,635.6 L225.7,636.4 L226.9,636.3 L228.1,635.6 L229.2,636.0 L230.4,636.7 L231.6,635.7 L232.8,636.7 L234.0,636.4 L235.2,636.5 L236.5,636.5 L237.8,637.8 L239.0,636.8 L240.3,637.0 L241.6,637.4 L242.8,638.3 L244.1,637.0 L245.4,637.7 L246.7,637.8 L247.9,638.3 L249.2,638.1 L250.4,638.0 L251.7,636.9 L252.9,637.0 L254.2,636.8 L255.4,637.6 L256.7,637.7 L257.9,636.1 L259.2,636.0 L260.4,636.0 L261.7,635.9 L262.9,636.0 L264.0,635.9 L265.2,635.0 L266.4,634.2 L267.6,634.6 L268.7,634.2 L269.9,634.2 L271.1,634.5 L272.2,633.7 L273.4,633.1 L274.6,632.9 L275.8,632.7 L276.9,631.2 L278.1,632.4 L279.2,631.7 L280.3,631.3 L281.4,630.7 L282.5,629.4 L283.6,628.9 L284.7,627.8 L285.8,628.3 L286.9,626.7 L288.0,626.2 L289.1,625.9 L290.2,625.3 L291.3,625.1 L292.4,624.1 L293.6,624.0 L294.8,624.3 L296.1,624.2 L297.3,624.9 L298.5,624.9" stroke="#1f78c8" stroke-width="1.25" fill="none" stroke-linejoin="round"/>
<path d="M142.1,641.2 L142.2,640.0 L142.4,638.7 L142.5,637.5 L142.7,636.0 L142.8,634.2 L143.0,634.5 L143.1,632.8 L143.3,630.8 L143.4,629.7 L143.6,628.7 L143.7,627.5 L143.9,625.8 L144.0,625.9 L144.2,624.9 L144.3,622.7 L144.7,621.6 L145.1,619.7 L145.4,618.6 L145.8,617.9 L146.2,616.6 L146.6,616.4 L147.0,614.0 L147.4,612.6 L147.7,613.1 L148.1,611.2 L148.5,609.4 L149.2,608.9 L149.9,606.8 L150.7,606.6 L151.4,606.3 L152.1,604.9 L152.8,603.5 L153.6,601.7 L154.4,601.0 L155.2,599.7 L155.9,599.9 L156.7,598.5 L157.5,598.0 L158.7,596.8 L159.9,596.1 L161.1,596.7 L162.3,596.6 L163.5,595.9 L164.7,595.3 L165.8,594.7 L167.0,594.0 L168.2,592.5 L169.4,592.4 L170.5,591.5 L171.7,590.4 L172.9,590.9 L174.0,591.8 L175.2,592.3 L176.4,593.6 L177.6,594.6 L178.8,594.2 L179.9,595.6 L181.1,596.2 L182.1,597.0 L183.1,596.8 L184.1,597.4 L185.1,598.3 L186.2,599.1 L187.2,600.0 L188.2,601.6 L189.2,603.0 L190.6,603.0 L191.9,602.4 L193.3,602.8 L194.7,603.2 L196.0,602.0 L197.4,603.1 L198.7,603.9 L199.9,604.1 L201.2,604.5 L202.5,604.4 L203.7,604.2 L205.0,605.7 L206.3,605.0 L207.6,605.9 L208.8,606.3 L210.1,605.4 L211.4,605.5 L212.7,606.6 L213.9,606.3 L215.2,605.4 L216.5,605.4 L217.8,605.6 L219.1,607.0 L220.3,607.0 L221.6,605.9 L222.9,607.2 L224.1,607.3 L225.3,606.6 L226.5,605.9 L227.7,606.2 L228.9,605.3 L230.2,604.9 L231.4,606.5 L232.6,605.8 L233.8,605.4 L235.0,606.0 L236.2,605.0 L237.4,605.7 L238.7,605.3 L240.0,603.9 L241.4,603.8 L242.7,603.6 L244.0,603.2 L245.3,603.6 L246.4,602.3 L247.4,602.0 L248.4,600.8 L249.5,601.5 L250.6,599.9 L251.6,599.4 L252.8,599.2 L254.0,599.4 L255.2,598.1 L256.5,598.6 L257.7,597.4 L258.9,597.0 L260.1,596.6 L261.3,595.2 L262.5,595.6 L263.8,594.7 L265.0,594.0 L266.2,595.0 L267.4,593.4 L268.7,593.7 L269.9,593.9 L271.2,593.4 L272.4,592.7 L273.7,592.8 L275.0,592.7 L276.2,592.8 L277.5,591.4 L278.7,591.9 L280.0,591.1 L281.2,590.8 L282.4,591.2 L283.6,590.3 L284.8,589.9 L285.9,589.8 L287.1,589.7 L288.3,588.4 L289.5,588.3 L290.7,587.6 L291.9,587.2 L293.1,587.1 L294.2,586.2 L295.4,585.9 L296.6,585.3 L297.8,584.9 L299.0,584.5" stroke="#9a30f0" stroke-width="1.25" fill="none" stroke-linejoin="round"/>
<path d="M141.3,641.2 L141.5,640.0 L141.6,638.8 L141.8,637.6 L141.9,637.1 L142.1,635.6 L142.2,634.6 L142.4,633.6 L142.5,631.3 L142.7,630.6 L142.8,630.0 L143.0,628.6 L143.1,626.3 L143.2,625.1 L143.4,624.4 L143.5,622.6 L143.6,621.6 L143.7,620.1 L143.9,619.8 L144.0,618.7 L144.1,617.6 L144.2,615.2 L144.3,614.8 L144.4,613.5 L144.5,611.4 L144.6,611.3 L144.8,610.2 L144.9,607.8 L145.0,607.7 L145.1,605.5 L145.3,604.5 L145.6,604.0 L145.8,602.6 L146.1,600.3 L146.3,599.5 L146.6,598.4 L146.8,596.9 L147.0,595.4 L147.3,594.4 L147.5,593.8 L147.8,591.5 L148.0,591.1 L148.3,589.7 L148.5,587.8 L148.9,587.1 L149.2,586.3 L149.6,584.9 L150.0,583.0 L150.4,583.2 L150.7,581.7 L151.1,580.8 L151.4,578.2 L151.7,577.3 L152.0,575.7 L152.3,575.7 L152.6,573.7 L152.9,572.3 L153.2,571.6 L153.5,571.2 L153.8,569.9 L154.1,567.8 L154.7,566.5 L155.3,566.6 L155.9,564.9 L156.5,564.0 L157.1,561.9 L157.7,560.7 L158.3,560.6 L158.9,559.1 L159.5,557.4 L160.1,557.6 L160.7,556.0 L161.6,555.4 L162.4,553.4 L163.3,553.7 L164.2,551.6 L165.1,552.0 L165.9,550.4 L166.8,549.4 L167.7,548.8 L168.5,548.6 L169.4,546.6 L170.7,546.2 L171.9,546.6 L173.2,545.9 L174.5,545.4 L175.8,545.3 L177.1,544.9 L178.3,544.9 L179.6,544.8 L180.8,544.9 L182.0,545.7 L183.2,545.0 L184.4,545.5 L185.6,545.0 L186.8,545.4 L188.0,544.9 L189.2,545.4 L190.4,545.1 L191.6,546.4 L192.8,546.2 L194.0,545.7 L195.2,546.2 L196.4,547.0 L197.6,545.8 L198.8,547.0 L200.0,546.5 L201.2,546.4 L202.4,546.8 L203.6,545.9 L204.8,546.0 L206.0,546.1 L207.2,546.4 L208.4,545.2 L209.6,545.8 L210.8,545.5 L212.0,545.2 L213.2,544.6 L214.4,544.8 L215.7,544.5 L216.9,544.9 L218.2,545.0 L219.4,546.3 L220.7,545.8 L221.9,545.8 L223.2,545.9 L224.3,546.7 L225.5,546.3 L226.6,545.6 L227.8,544.5 L228.9,544.0 L230.1,543.7 L231.2,543.5 L232.4,542.6 L233.5,542.6 L234.7,541.9 L235.8,542.5 L237.0,542.2 L238.2,541.1 L239.3,540.2 L240.5,541.0 L241.7,539.5 L242.9,539.2 L244.1,538.2 L245.2,538.5 L246.4,538.2 L247.6,537.9 L248.8,537.0 L250.0,537.1 L251.2,535.9 L252.3,535.9 L253.5,535.2 L254.7,535.3 L255.9,534.5 L257.0,534.1 L258.2,534.2 L259.3,533.8 L260.5,534.1 L261.7,533.7 L262.8,533.7 L264.0,533.2 L265.1,533.0 L266.3,533.0 L267.5,531.9 L268.6,531.5 L269.8,532.2 L270.9,530.6 L272.1,531.2 L273.2,530.6 L274.3,529.1 L275.4,529.9 L276.5,529.5 L277.6,528.7 L278.8,528.4 L279.9,528.0 L281.0,526.5 L282.1,526.6 L283.2,526.1 L284.3,526.2 L285.5,525.7 L286.6,525.4 L287.7,524.5 L288.8,524.6 L290.0,523.9 L291.1,523.5 L292.2,522.3 L293.4,521.6 L294.5,521.3 L295.6,521.2 L296.7,520.4 L297.9,520.6 L299.0,520.2" stroke="#127012" stroke-width="1.25" fill="none" stroke-linejoin="round"/>
<path d="M82.4,641.2 L83.6,641.2 L84.8,641.2 L86.0,641.2 L87.2,641.2 L88.4,641.2 L89.6,641.2 L90.8,641.2 L92.1,641.2 L93.3,641.2 L94.5,641.2 L95.7,641.2 L96.9,641.2 L98.1,641.2 L99.3,641.2 L100.5,641.2 L101.7,641.2 L102.9,641.2 L104.1,641.2 L105.3,641.2 L106.5,641.2 L107.7,641.2 L109.0,641.2 L110.2,641.2 L111.4,641.2 L112.6,641.2 L113.8,641.2 L115.0,641.2 L116.2,641.2 L117.4,641.2 L118.6,641.2 L119.8,641.2 L121.0,641.2 L122.2,641.2 L123.4,641.2 L124.6,641.2 L125.8,641.2 L127.1,641.2 L128.3,641.2 L129.5,641.2 L130.7,641.2 L131.9,641.2 L133.1,641.2 L134.3,641.2 L135.5,641.2 L135.8,639.8 L136.1,638.6 L136.3,637.0 L136.6,635.7 L137.0,637.1 L137.4,638.5 L137.9,639.8 L138.3,641.2 L138.4,640.0 L138.5,638.7 L138.6,637.2 L138.8,636.5 L138.9,635.2 L139.0,633.8 L139.1,632.6 L139.2,631.5 L139.3,629.9 L139.4,629.1 L139.5,627.5 L139.7,626.2 L139.8,625.1 L139.9,624.2 L140.0,622.6 L140.1,621.7 L140.2,620.6 L140.3,619.0 L140.4,617.7 L140.5,616.5 L140.6,615.4 L140.7,614.2 L140.8,612.8 L140.9,611.6 L141.0,609.9 L141.1,608.7 L141.2,607.5 L141.3,606.6 L141.4,605.0 L141.5,604.0 L141.6,602.3 L141.7,601.1 L141.8,600.0 L141.9,599.0 L142.1,597.8 L142.2,596.5 L142.3,595.0 L142.4,593.9 L142.6,592.6 L142.7,591.3 L142.8,589.8 L142.9,589.1 L143.1,587.3 L143.2,586.6 L143.3,585.3 L143.4,583.4 L143.6,582.5 L143.7,581.5 L143.8,580.3 L143.9,578.8 L144.0,577.4 L144.1,576.2 L144.3,575.5 L144.4,573.8 L144.5,572.9 L144.6,571.4 L144.7,570.5 L144.8,569.6 L145.0,567.8 L145.1,567.1 L145.2,565.7 L145.3,564.7 L145.4,563.4 L145.5,561.9 L145.7,561.2 L145.8,559.7 L145.9,558.2 L146.0,557.0 L146.1,556.1 L146.2,554.9 L146.3,553.6 L146.5,552.3 L146.6,551.2 L146.7,550.0 L146.8,549.2 L146.9,547.4 L147.0,546.7 L147.2,545.6 L147.3,543.9 L147.4,543.3 L147.5,541.9 L147.6,540.9 L147.7,539.2 L147.9,538.1 L148.0,536.9 L148.1,536.1 L148.2,534.7 L148.6,533.3 L148.9,532.1 L149.3,530.8 L149.6,529.5 L150.0,528.3 L150.3,527.6 L150.7,526.0 L151.1,525.3 L151.4,523.6 L151.8,522.4 L152.1,521.4 L152.5,520.0 L152.9,518.9 L153.2,518.1 L153.6,516.9 L153.9,515.6 L154.3,514.3 L154.6,513.3 L155.0,512.1 L155.5,510.8 L156.1,509.8 L156.6,508.3 L157.2,507.7 L157.7,506.4 L158.2,505.5 L158.8,504.4 L159.3,503.1 L159.9,501.8 L160.4,501.4 L160.9,499.7 L161.5,498.9 L162.0,497.7 L162.6,496.6 L163.1,495.9 L163.8,495.0 L164.6,493.4 L165.3,492.7 L166.0,491.4 L166.7,490.5 L167.5,489.4 L168.2,488.2 L169.0,487.3 L169.9,486.5 L170.8,486.1 L171.6,485.0 L172.4,484.0 L173.3,483.6 L174.2,482.8 L175.0,481.6 L175.8,480.5 L176.7,479.7 L177.6,478.8 L178.4,478.1 L179.6,477.4 L180.7,477.0 L181.9,476.5 L183.1,476.2 L184.2,475.9 L185.4,475.3 L186.6,474.6 L187.8,474.1 L188.9,473.6 L190.1,473.0 L191.4,472.7 L192.7,472.2 L193.9,472.1 L195.2,472.3 L196.5,471.5 L197.8,471.5 L199.0,471.3 L200.3,471.2 L201.5,470.7 L202.7,470.8 L203.9,470.7 L205.1,470.9 L206.4,470.9 L207.6,471.2 L208.8,471.2 L210.0,471.2 L211.2,470.6 L212.4,470.6 L213.6,471.1 L214.8,471.2 L216.0,470.9 L217.2,471.0 L218.5,470.6 L219.7,470.9 L220.9,471.3 L222.1,471.2 L223.3,471.2 L224.5,471.1 L225.8,470.5 L227.0,470.2 L228.2,470.0 L229.5,470.1 L230.7,470.0 L232.0,470.0 L233.2,469.7 L234.4,469.5 L235.7,469.4 L236.9,469.0 L238.1,468.7 L239.3,467.9 L240.5,468.1 L241.7,467.3 L242.9,467.4 L244.1,466.8 L245.3,466.2 L246.6,465.7 L247.8,465.4 L249.0,465.3 L250.2,464.9 L251.4,464.2 L252.6,463.7 L253.8,463.7 L255.0,463.3 L256.2,462.8 L257.3,462.2 L258.5,461.9 L259.6,461.0 L260.8,460.7 L261.9,460.3 L263.1,460.1 L264.2,459.4 L265.4,459.1 L266.6,458.3 L267.7,457.6 L268.9,457.1 L270.0,457.1 L271.2,456.4 L272.3,455.6 L273.4,454.8 L274.5,454.7 L275.6,454.3 L276.7,453.6 L277.8,453.0 L278.9,452.7 L280.1,452.4 L281.2,451.4 L282.3,450.7 L283.4,450.4 L284.5,450.0 L285.6,449.6 L286.7,448.8 L287.9,449.0 L289.1,448.8 L290.3,448.5 L291.5,448.1 L292.8,448.5 L294.0,447.8 L295.2,448.0 L296.4,447.5 L297.6,447.5 L298.8,447.3" stroke="#2a96ff" stroke-width="1.25" fill="none" stroke-linejoin="round"/>
<path d="M134.4,641.2 L134.8,639.9 L135.3,638.6 L135.7,637.3 L136.2,635.8 L136.6,634.9 L136.6,633.3 L136.6,632.6 L136.6,631.1 L136.6,629.6 L136.5,628.4 L136.5,627.3 L136.5,626.3 L136.5,625.3 L136.5,623.5 L136.5,622.5 L136.5,621.1 L136.5,620.4 L136.4,618.6 L136.4,617.4 L136.4,616.2 L136.4,615.2 L136.4,614.3 L136.4,613.1 L136.4,611.8 L136.4,610.7 L136.4,609.5 L136.3,607.8 L136.3,606.5 L136.3,605.8 L136.3,604.5 L136.3,602.8 L136.4,604.4 L136.5,605.4 L136.6,606.6 L136.7,607.8 L136.9,608.9 L137.0,610.0 L137.1,611.3 L137.2,612.6 L137.3,614.2 L137.4,614.8 L137.5,614.2 L137.5,612.5 L137.6,611.4 L137.6,610.5 L137.7,609.3 L137.8,607.9 L137.8,606.4 L137.9,605.5 L137.9,604.2 L138.0,603.4 L138.1,601.7 L138.1,600.6 L138.2,599.8 L138.2,598.0 L138.3,597.0 L138.4,596.1 L138.5,594.9 L138.6,593.1 L138.8,591.9 L138.9,590.7 L139.0,590.1 L139.1,588.4 L139.3,587.5 L139.6,586.4 L139.8,584.8 L140.1,583.5 L140.3,582.8 L140.6,581.3 L140.8,579.8 L140.9,579.0 L141.0,577.5 L141.1,576.2 L141.2,574.9 L141.3,574.2 L141.4,573.1 L141.5,571.7 L141.6,570.7 L141.7,568.9 L141.8,567.8 L141.9,566.8 L142.0,565.9 L142.0,564.7 L142.1,563.1 L142.2,561.8 L142.3,560.8 L142.4,559.6 L142.5,558.7 L142.6,557.0 L142.7,556.2 L142.8,555.0 L142.9,553.8 L143.0,552.6 L143.1,551.3 L143.2,549.9 L143.3,548.6 L143.3,547.5 L143.4,546.5 L143.5,544.8 L143.5,543.7 L143.6,542.8 L143.6,541.2 L143.7,539.9 L143.8,538.6 L143.8,537.8 L143.9,536.4 L144.0,535.6 L144.0,534.3 L144.1,533.2 L144.2,531.5 L144.2,530.1 L144.3,528.9 L144.3,527.9 L144.4,526.9 L144.5,525.5 L144.5,524.1 L144.6,523.0 L144.7,521.9 L144.7,520.7 L144.8,519.5 L144.9,518.4 L144.9,517.0 L145.0,515.4 L145.1,514.7 L145.1,513.1 L145.2,512.1 L145.2,510.7 L145.3,509.7 L145.4,508.1 L145.4,506.9 L145.5,505.7 L145.7,504.4 L146.0,503.7 L146.2,502.3 L146.4,500.9 L146.7,499.7 L146.9,498.9 L147.1,497.4 L147.4,496.0 L147.6,495.2 L147.8,493.8 L148.1,492.9 L148.3,491.0 L148.5,490.1 L148.6,489.1 L148.8,487.9 L149.0,486.7 L149.1,484.8 L149.3,483.8 L149.4,482.4 L149.6,481.3 L149.8,480.6 L149.9,479.1 L150.1,478.1 L150.3,476.5 L150.4,475.6 L150.6,474.1 L150.7,472.7 L150.9,471.9 L151.1,470.8 L151.2,469.0 L151.4,468.1 L151.9,466.8 L152.4,465.3 L152.9,464.1 L153.5,462.7 L154.0,461.5 L154.5,460.3 L155.0,459.3 L155.7,458.2 L156.5,456.8 L157.2,455.6 L157.9,454.7 L158.7,453.8 L159.4,452.4 L160.5,451.9 L161.6,451.3 L162.7,451.2 L163.8,450.4 L165.3,449.8 L166.7,449.5 L168.2,449.3 L169.4,449.5 L170.6,449.5 L171.9,449.2 L173.1,449.3 L174.3,449.7 L175.6,449.5 L176.8,449.4 L178.0,449.5 L179.3,450.2 L180.6,450.0 L181.8,450.5 L183.1,450.6 L184.4,451.0 L185.7,451.6 L187.0,451.5 L188.2,450.9 L189.5,450.6 L190.7,450.8 L192.0,450.3 L193.4,450.0 L194.8,450.4 L196.2,449.8 L197.5,449.9 L198.9,449.4 L200.3,449.6 L201.5,449.3 L202.8,449.1 L204.0,449.0 L205.2,449.3 L206.4,449.4 L207.7,449.6 L208.9,449.0 L210.1,449.4 L211.3,449.2 L212.6,449.3 L213.8,449.1 L215.0,449.1 L216.2,449.0 L217.5,448.9 L218.8,448.0 L220.0,448.0 L221.2,447.8 L222.5,447.6 L223.7,447.1 L224.9,447.0 L226.1,447.6 L227.4,447.6 L228.6,447.3 L229.8,447.0 L231.0,447.6 L232.2,447.2 L233.4,447.6 L234.6,447.4 L235.9,447.5 L237.1,447.1 L238.3,447.5 L239.5,447.1 L240.7,447.2 L241.9,447.5 L243.1,447.5 L244.4,447.1 L245.6,447.1 L246.8,447.2 L248.0,447.3 L249.2,447.2 L250.4,447.0 L251.7,447.1 L252.9,447.5 L254.1,447.6 L255.3,447.0 L256.5,447.3 L257.7,447.5 L258.9,447.0 L260.2,447.5 L261.4,447.0 L262.6,447.4 L263.8,447.3 L265.0,447.4 L266.2,447.2 L267.4,447.2 L268.7,447.4 L269.9,447.2 L271.1,447.4 L272.3,447.3 L274.0,448.5 L275.2,448.2 L276.5,448.6 L277.7,448.5 L279.0,448.3 L280.2,448.7 L281.4,448.7 L282.7,448.5 L283.9,448.3 L285.2,448.5 L286.4,448.2 L287.6,448.2 L288.9,448.5 L290.1,448.2 L291.4,448.5 L292.6,448.5 L293.8,448.2 L295.1,448.6 L296.3,448.2 L297.6,448.5 L298.8,448.5" stroke="#ff1a1a" stroke-width="1.25" fill="none" stroke-linejoin="round"/>
<g stroke="#000" stroke-width="2" fill="none">
<path d="M391.8,436.7 V641.8 H636.5"/>
<path d="M387.1,641.8 H391.8"/>
<path d="M387.1,573.4 H391.8"/>
<path d="M387.1,505.0 H391.8"/>
<path d="M387.1,436.6 H391.8"/>
<path d="M391.8,641.8 V647.8"/>
<path d="M452.8,641.8 V647.8"/>
<path d="M513.8,641.8 V647.8"/>
<path d="M574.8,641.8 V647.8"/>
<path d="M635.8,641.8 V647.8"/>
</g>
<text x="383.6" y="646.1" text-anchor="end" font-size="16.6" font-weight="bold" fill="#111" textLength="6.4" lengthAdjust="spacingAndGlyphs">0</text>
<text x="383.6" y="577.7" text-anchor="end" font-size="16.6" font-weight="bold" fill="#111" textLength="32.0" lengthAdjust="spacingAndGlyphs">50000</text>
<text x="383.6" y="509.3" text-anchor="end" font-size="16.6" font-weight="bold" fill="#111" textLength="38.4" lengthAdjust="spacingAndGlyphs">100000</text>
<text x="383.6" y="440.9" text-anchor="end" font-size="16.6" font-weight="bold" fill="#111" textLength="38.4" lengthAdjust="spacingAndGlyphs">150000</text>
<text x="391.8" y="664.5" text-anchor="middle" font-size="14" font-weight="bold" fill="#111" textLength="9.5" lengthAdjust="spacingAndGlyphs">-9</text>
<text x="452.8" y="664.5" text-anchor="middle" font-size="14" font-weight="bold" fill="#111" textLength="9.5" lengthAdjust="spacingAndGlyphs">-8</text>
<text x="513.8" y="664.5" text-anchor="middle" font-size="14" font-weight="bold" fill="#111" textLength="9.5" lengthAdjust="spacingAndGlyphs">-7</text>
<text x="574.8" y="664.5" text-anchor="middle" font-size="14" font-weight="bold" fill="#111" textLength="9.5" lengthAdjust="spacingAndGlyphs">-6</text>
<text x="635.8" y="664.5" text-anchor="middle" font-size="14" font-weight="bold" fill="#111" textLength="9.5" lengthAdjust="spacingAndGlyphs">-5</text>
<path d="M432.1,624.4 L433.3,624.3 L434.5,624.3 L435.7,624.2 L436.9,624.2 L438.2,624.1 L439.4,624.0 L440.6,623.9 L441.8,623.9 L443.0,623.7 L444.3,623.6 L445.5,623.5 L446.7,623.3 L447.9,623.2 L449.1,623.0 L450.4,622.8 L451.6,622.5 L452.8,622.2 L454.0,621.9 L455.2,621.6 L456.5,621.2 L457.7,620.8 L458.9,620.3 L460.1,619.8 L461.3,619.2 L462.6,618.5 L463.8,617.8 L465.0,616.9 L466.2,616.0 L467.4,615.0 L468.7,613.9 L469.9,612.7 L471.1,611.3 L472.3,609.8 L473.5,608.2 L474.8,606.4 L476.0,604.5 L477.2,602.4 L478.4,600.2 L479.6,597.8 L480.9,595.2 L482.1,592.5 L483.3,589.6 L484.5,586.6 L485.7,583.5 L487.0,580.2 L488.2,576.9 L489.4,573.4 L490.6,570.0 L491.8,566.5 L493.1,563.0 L494.3,559.5 L495.5,556.1 L496.7,552.7 L497.9,549.5 L499.2,546.3 L500.4,543.3 L501.6,540.4 L502.8,537.6 L504.0,535.1 L505.3,532.6 L506.5,530.4 L507.7,528.3 L508.9,526.3 L510.1,524.5 L511.4,522.9 L512.6,521.4 L513.8,520.0 L515.0,518.7 L516.2,517.6 L517.5,516.6 L518.7,515.6 L519.9,514.8 L521.1,514.0 L522.3,513.4 L523.6,512.8 L524.8,512.2 L526.0,511.7 L527.2,511.3 L528.4,510.9 L529.7,510.6 L530.9,510.2 L532.1,510.0 L533.3,509.7 L534.5,509.5 L535.8,509.3 L537.0,509.1 L538.2,509.0 L539.4,508.8 L540.6,508.7 L541.9,508.6 L543.1,508.5 L544.3,508.4 L545.5,508.3 L546.7,508.3 L548.0,508.2 L549.2,508.2 L550.4,508.1 L551.6,508.1 L552.8,508.0 L554.1,508.0 L555.3,508.0 L556.5,507.9 L557.7,507.9 L558.9,507.9 L560.2,507.9 L561.4,507.9 L562.6,507.8 L563.8,507.8 L565.0,507.8 L566.3,507.8 L567.5,507.8 L568.7,507.8 L569.9,507.8 L571.1,507.8 L572.4,507.8 L573.6,507.8 L574.8,507.8 L576.0,507.8 L577.2,507.8 L578.5,507.8 L579.7,507.8 L580.9,507.8 L582.1,507.8 L583.3,507.8 L584.6,507.7 L585.8,507.7 L587.0,507.7 L588.2,507.7 L589.4,507.7 L590.7,507.7 L591.9,507.7 L593.1,507.7 L594.3,507.7 L595.5,507.7 L596.8,507.7 L598.0,507.7 L599.2,507.7 L600.4,507.7 L601.6,507.7 L602.9,507.7 L604.1,507.7 L605.3,507.7" stroke="#000" stroke-width="2" fill="none"/>
<path d="M490.3,560.7 V582 M487.2,560.7 H493.4 M487.2,582 H493.4 M519.4,511.3 V524 M516.2,511.3 H522.6 M516.2,524 H522.6" stroke="#000" stroke-width="1.3" fill="none"/>
<ellipse cx="432" cy="624.1" rx="3.6" ry="4.2" fill="#000"/>
<ellipse cx="460.9" cy="621.5" rx="3.6" ry="4.2" fill="#000"/>
<ellipse cx="490.3" cy="571.2" rx="3.6" ry="4.2" fill="#000"/>
<ellipse cx="519.4" cy="518" rx="3.6" ry="4.2" fill="#000"/>
<ellipse cx="548.5" cy="499" rx="3.6" ry="4.2" fill="#000"/>
<ellipse cx="577.3" cy="505.1" rx="3.6" ry="4.2" fill="#000"/>
<ellipse cx="606.7" cy="516.4" rx="3.6" ry="4.2" fill="#000"/>
<text x="487.2" y="609.8" font-size="18.5" fill="#2a2a7a" textLength="135" lengthAdjust="spacingAndGlyphs">IC50 = 4.38 x 10</text>
<text x="623.5" y="604.3" font-size="11.5" fill="#2a2a7a" textLength="12" lengthAdjust="spacingAndGlyphs">-8</text>
<text x="511.3" y="632" font-size="18.5" fill="#2a2a7a">R</text>
<text x="524.6" y="626.4" font-size="11.5" fill="#2a2a7a">2</text>
<text x="536.3" y="632" font-size="18.5" fill="#2a2a7a" textLength="75" lengthAdjust="spacingAndGlyphs">= 0.9833</text>
<text transform="translate(339.3,558.6) rotate(-90)" font-size="22.5" fill="#2a2a7a" stroke="#2a2a7a" stroke-width="0.3" textLength="42.2" lengthAdjust="spacingAndGlyphs">AUG</text>
<text x="395.3" y="700.7" font-size="20.5" fill="#2a2a7a" textLength="215" lengthAdjust="spacingAndGlyphs">Log [Camptothecin] (M)</text>
<defs><filter id="wmb" x="-10%" y="-30%" width="120%" height="160%"><feGaussianBlur stdDeviation="1.5"/></filter><filter id="wmb2" x="-10%" y="-30%" width="120%" height="160%"><feGaussianBlur stdDeviation="0.7"/></filter></defs>
<g opacity="0.62">
<path d="M493,733 C540,717 600,713 668,724 C610,719 550,723 500,740 Z" fill="#c2c2c2" filter="url(#wmb)"/>
<path d="M497,730 C540,718 600,715 655,722 C600,718 550,722 502,735 Z" fill="#efefef" filter="url(#wmb2)"/>
<g filter="url(#wmb)"><text x="499" y="714" font-size="36" font-weight="bold" fill="#bdbdbd" textLength="158" lengthAdjust="spacingAndGlyphs">antpedia</text>
<path d="M500,691 A12,12 0 0 1 514,677 M505,693 A16,16 0 0 1 523,681" stroke="#c4c4c4" stroke-width="3.5" fill="none"/></g>
<g filter="url(#wmb2)"><text x="497.5" y="712.5" font-size="36" font-weight="bold" fill="#ececec" textLength="158" lengthAdjust="spacingAndGlyphs">antpedia</text>
<path d="M499,690 A12,12 0 0 1 513,676 M504,692 A16,16 0 0 1 522,680" stroke="#ececec" stroke-width="2.5" fill="none"/></g>
</g>
</svg>
</body></html>
